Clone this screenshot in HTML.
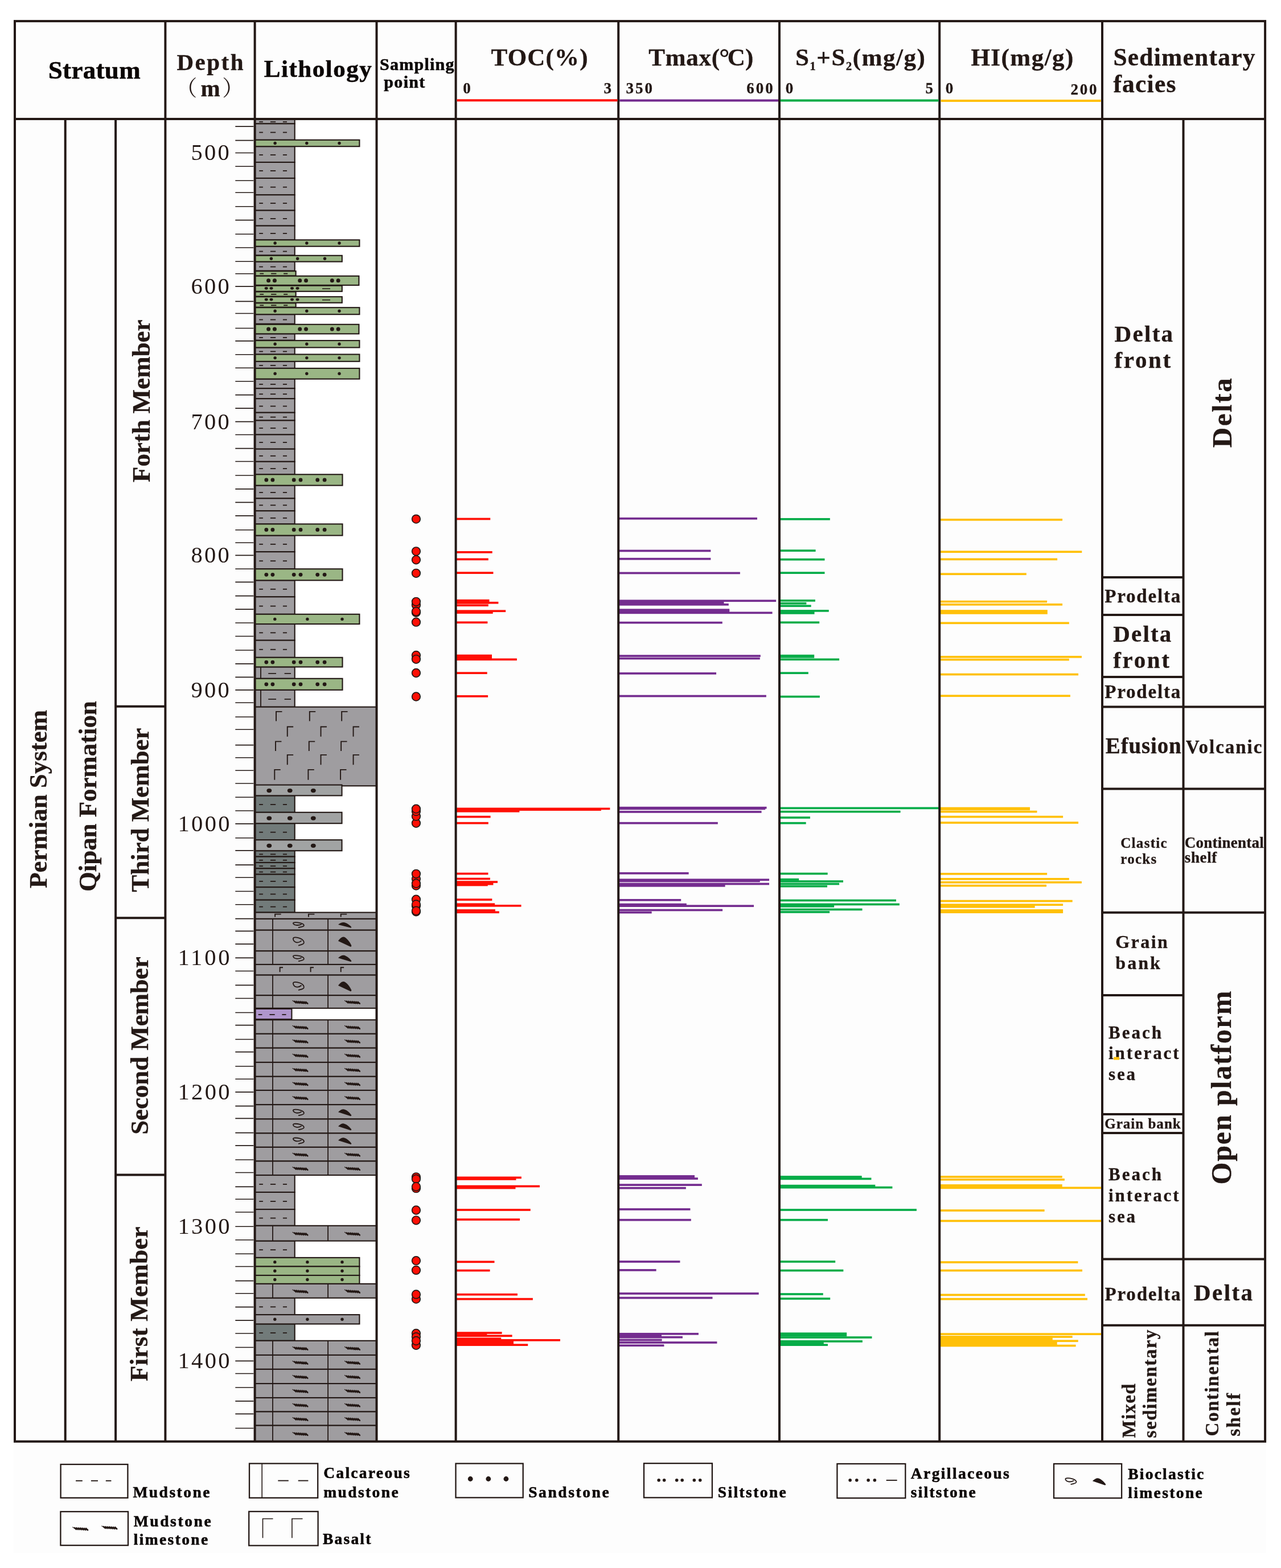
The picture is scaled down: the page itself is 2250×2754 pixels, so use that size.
<!DOCTYPE html>
<html lang="en">
<head>
<meta charset="utf-8">
<title>Stratigraphic column</title>
<style>
html,body{margin:0;padding:0;background:#ffffff;}
body{width:2250px;height:2754px;overflow:hidden;}
svg{display:block;}
svg text{font-family:"Liberation Serif","Noto Serif CJK SC","Noto Sans CJK SC",serif;font-weight:700;fill:#231815;stroke:#231815;stroke-width:0.35px;}
svg text.k{fill:#0b0605;stroke:#0b0605;stroke-width:0.6px;}
</style>
</head>
<body>
<svg width="2250" height="2754" viewBox="0 0 2250 2754">
<rect x="24" y="35.1" width="2200" height="2692.6" fill="#fdfdfd"/>
<g id="lithology">
<rect x="447.6" y="208.9" width="213.9" height="2322.9" fill="#ffffff"/>
<rect x="447.6" y="208.9" width="70.1" height="8.4" fill="#9f9da0" stroke="#231815" stroke-width="2.1"/>
<line x1="455.2" y1="214.1" x2="461.9" y2="214.1" stroke="#231815" stroke-width="1.8" stroke-linecap="butt"/>
<line x1="474.9" y1="214.1" x2="484.2" y2="214.1" stroke="#231815" stroke-width="1.8" stroke-linecap="butt"/>
<line x1="496.9" y1="214.1" x2="504" y2="214.1" stroke="#231815" stroke-width="1.8" stroke-linecap="butt"/>
<rect x="447.6" y="217.3" width="70.1" height="28.5" fill="#9f9da0" stroke="#231815" stroke-width="2.1"/>
<line x1="455.2" y1="232.55" x2="461.9" y2="232.55" stroke="#231815" stroke-width="1.8" stroke-linecap="butt"/>
<line x1="474.9" y1="232.55" x2="484.2" y2="232.55" stroke="#231815" stroke-width="1.8" stroke-linecap="butt"/>
<line x1="496.9" y1="232.55" x2="504" y2="232.55" stroke="#231815" stroke-width="1.8" stroke-linecap="butt"/>
<rect x="447.6" y="257.2" width="70.1" height="27.8" fill="#9f9da0" stroke="#231815" stroke-width="2.1"/>
<line x1="455.2" y1="272.1" x2="461.9" y2="272.1" stroke="#231815" stroke-width="1.8" stroke-linecap="butt"/>
<line x1="474.9" y1="272.1" x2="484.2" y2="272.1" stroke="#231815" stroke-width="1.8" stroke-linecap="butt"/>
<line x1="496.9" y1="272.1" x2="504" y2="272.1" stroke="#231815" stroke-width="1.8" stroke-linecap="butt"/>
<rect x="447.6" y="285" width="70.1" height="28" fill="#9f9da0" stroke="#231815" stroke-width="2.1"/>
<line x1="455.2" y1="300" x2="461.9" y2="300" stroke="#231815" stroke-width="1.8" stroke-linecap="butt"/>
<line x1="474.9" y1="300" x2="484.2" y2="300" stroke="#231815" stroke-width="1.8" stroke-linecap="butt"/>
<line x1="496.9" y1="300" x2="504" y2="300" stroke="#231815" stroke-width="1.8" stroke-linecap="butt"/>
<rect x="447.6" y="313" width="70.1" height="29.3" fill="#9f9da0" stroke="#231815" stroke-width="2.1"/>
<line x1="455.2" y1="328.65" x2="461.9" y2="328.65" stroke="#231815" stroke-width="1.8" stroke-linecap="butt"/>
<line x1="474.9" y1="328.65" x2="484.2" y2="328.65" stroke="#231815" stroke-width="1.8" stroke-linecap="butt"/>
<line x1="496.9" y1="328.65" x2="504" y2="328.65" stroke="#231815" stroke-width="1.8" stroke-linecap="butt"/>
<rect x="447.6" y="342.3" width="70.1" height="27.3" fill="#9f9da0" stroke="#231815" stroke-width="2.1"/>
<line x1="455.2" y1="356.95" x2="461.9" y2="356.95" stroke="#231815" stroke-width="1.8" stroke-linecap="butt"/>
<line x1="474.9" y1="356.95" x2="484.2" y2="356.95" stroke="#231815" stroke-width="1.8" stroke-linecap="butt"/>
<line x1="496.9" y1="356.95" x2="504" y2="356.95" stroke="#231815" stroke-width="1.8" stroke-linecap="butt"/>
<rect x="447.6" y="369.6" width="70.1" height="27" fill="#9f9da0" stroke="#231815" stroke-width="2.1"/>
<line x1="455.2" y1="384.1" x2="461.9" y2="384.1" stroke="#231815" stroke-width="1.8" stroke-linecap="butt"/>
<line x1="474.9" y1="384.1" x2="484.2" y2="384.1" stroke="#231815" stroke-width="1.8" stroke-linecap="butt"/>
<line x1="496.9" y1="384.1" x2="504" y2="384.1" stroke="#231815" stroke-width="1.8" stroke-linecap="butt"/>
<rect x="447.6" y="396.6" width="70.1" height="24.8" fill="#9f9da0" stroke="#231815" stroke-width="2.1"/>
<line x1="455.2" y1="410" x2="461.9" y2="410" stroke="#231815" stroke-width="1.8" stroke-linecap="butt"/>
<line x1="474.9" y1="410" x2="484.2" y2="410" stroke="#231815" stroke-width="1.8" stroke-linecap="butt"/>
<line x1="496.9" y1="410" x2="504" y2="410" stroke="#231815" stroke-width="1.8" stroke-linecap="butt"/>
<rect x="447.6" y="432.7" width="70.1" height="15.7" fill="#9f9da0" stroke="#231815" stroke-width="2.1"/>
<line x1="455.2" y1="441.55" x2="461.9" y2="441.55" stroke="#231815" stroke-width="1.8" stroke-linecap="butt"/>
<line x1="474.9" y1="441.55" x2="484.2" y2="441.55" stroke="#231815" stroke-width="1.8" stroke-linecap="butt"/>
<line x1="496.9" y1="441.55" x2="504" y2="441.55" stroke="#231815" stroke-width="1.8" stroke-linecap="butt"/>
<rect x="447.6" y="459.6" width="70.1" height="16" fill="#9f9da0" stroke="#231815" stroke-width="2.1"/>
<line x1="455.2" y1="468.6" x2="461.9" y2="468.6" stroke="#231815" stroke-width="1.8" stroke-linecap="butt"/>
<line x1="474.9" y1="468.6" x2="484.2" y2="468.6" stroke="#231815" stroke-width="1.8" stroke-linecap="butt"/>
<line x1="496.9" y1="468.6" x2="504" y2="468.6" stroke="#231815" stroke-width="1.8" stroke-linecap="butt"/>
<rect x="447.6" y="552.2" width="70.1" height="16.6" fill="#9f9da0" stroke="#231815" stroke-width="2.1"/>
<line x1="455.2" y1="561.5" x2="461.9" y2="561.5" stroke="#231815" stroke-width="1.8" stroke-linecap="butt"/>
<line x1="474.9" y1="561.5" x2="484.2" y2="561.5" stroke="#231815" stroke-width="1.8" stroke-linecap="butt"/>
<line x1="496.9" y1="561.5" x2="504" y2="561.5" stroke="#231815" stroke-width="1.8" stroke-linecap="butt"/>
<rect x="447.6" y="586.3" width="70.1" height="11.3" fill="#9f9da0" stroke="#231815" stroke-width="2.1"/>
<line x1="455.2" y1="592.95" x2="461.9" y2="592.95" stroke="#231815" stroke-width="1.8" stroke-linecap="butt"/>
<line x1="474.9" y1="592.95" x2="484.2" y2="592.95" stroke="#231815" stroke-width="1.8" stroke-linecap="butt"/>
<line x1="496.9" y1="592.95" x2="504" y2="592.95" stroke="#231815" stroke-width="1.8" stroke-linecap="butt"/>
<rect x="447.6" y="610.4" width="70.1" height="12" fill="#9f9da0" stroke="#231815" stroke-width="2.1"/>
<line x1="455.2" y1="617.4" x2="461.9" y2="617.4" stroke="#231815" stroke-width="1.8" stroke-linecap="butt"/>
<line x1="474.9" y1="617.4" x2="484.2" y2="617.4" stroke="#231815" stroke-width="1.8" stroke-linecap="butt"/>
<line x1="496.9" y1="617.4" x2="504" y2="617.4" stroke="#231815" stroke-width="1.8" stroke-linecap="butt"/>
<rect x="447.6" y="634.8" width="70.1" height="12.1" fill="#9f9da0" stroke="#231815" stroke-width="2.1"/>
<line x1="455.2" y1="641.85" x2="461.9" y2="641.85" stroke="#231815" stroke-width="1.8" stroke-linecap="butt"/>
<line x1="474.9" y1="641.85" x2="484.2" y2="641.85" stroke="#231815" stroke-width="1.8" stroke-linecap="butt"/>
<line x1="496.9" y1="641.85" x2="504" y2="641.85" stroke="#231815" stroke-width="1.8" stroke-linecap="butt"/>
<rect x="447.6" y="665.6" width="70.1" height="16.6" fill="#9f9da0" stroke="#231815" stroke-width="2.1"/>
<line x1="455.2" y1="674.9" x2="461.9" y2="674.9" stroke="#231815" stroke-width="1.8" stroke-linecap="butt"/>
<line x1="474.9" y1="674.9" x2="484.2" y2="674.9" stroke="#231815" stroke-width="1.8" stroke-linecap="butt"/>
<line x1="496.9" y1="674.9" x2="504" y2="674.9" stroke="#231815" stroke-width="1.8" stroke-linecap="butt"/>
<rect x="447.6" y="682.2" width="70.1" height="18" fill="#9f9da0" stroke="#231815" stroke-width="2.1"/>
<line x1="455.2" y1="692.2" x2="461.9" y2="692.2" stroke="#231815" stroke-width="1.8" stroke-linecap="butt"/>
<line x1="474.9" y1="692.2" x2="484.2" y2="692.2" stroke="#231815" stroke-width="1.8" stroke-linecap="butt"/>
<line x1="496.9" y1="692.2" x2="504" y2="692.2" stroke="#231815" stroke-width="1.8" stroke-linecap="butt"/>
<rect x="447.6" y="700.2" width="70.1" height="24.5" fill="#9f9da0" stroke="#231815" stroke-width="2.1"/>
<line x1="455.2" y1="713.45" x2="461.9" y2="713.45" stroke="#231815" stroke-width="1.8" stroke-linecap="butt"/>
<line x1="474.9" y1="713.45" x2="484.2" y2="713.45" stroke="#231815" stroke-width="1.8" stroke-linecap="butt"/>
<line x1="496.9" y1="713.45" x2="504" y2="713.45" stroke="#231815" stroke-width="1.8" stroke-linecap="butt"/>
<rect x="447.6" y="724.7" width="70.1" height="13.8" fill="#9f9da0" stroke="#231815" stroke-width="2.1"/>
<line x1="455.2" y1="732.6" x2="461.9" y2="732.6" stroke="#231815" stroke-width="1.8" stroke-linecap="butt"/>
<line x1="474.9" y1="732.6" x2="484.2" y2="732.6" stroke="#231815" stroke-width="1.8" stroke-linecap="butt"/>
<line x1="496.9" y1="732.6" x2="504" y2="732.6" stroke="#231815" stroke-width="1.8" stroke-linecap="butt"/>
<rect x="447.6" y="738.5" width="70.1" height="24.9" fill="#9f9da0" stroke="#231815" stroke-width="2.1"/>
<line x1="455.2" y1="751.95" x2="461.9" y2="751.95" stroke="#231815" stroke-width="1.8" stroke-linecap="butt"/>
<line x1="474.9" y1="751.95" x2="484.2" y2="751.95" stroke="#231815" stroke-width="1.8" stroke-linecap="butt"/>
<line x1="496.9" y1="751.95" x2="504" y2="751.95" stroke="#231815" stroke-width="1.8" stroke-linecap="butt"/>
<rect x="447.6" y="763.4" width="70.1" height="25.3" fill="#9f9da0" stroke="#231815" stroke-width="2.1"/>
<line x1="455.2" y1="777.05" x2="461.9" y2="777.05" stroke="#231815" stroke-width="1.8" stroke-linecap="butt"/>
<line x1="474.9" y1="777.05" x2="484.2" y2="777.05" stroke="#231815" stroke-width="1.8" stroke-linecap="butt"/>
<line x1="496.9" y1="777.05" x2="504" y2="777.05" stroke="#231815" stroke-width="1.8" stroke-linecap="butt"/>
<rect x="447.6" y="788.7" width="70.1" height="22.1" fill="#9f9da0" stroke="#231815" stroke-width="2.1"/>
<line x1="455.2" y1="800.75" x2="461.9" y2="800.75" stroke="#231815" stroke-width="1.8" stroke-linecap="butt"/>
<line x1="474.9" y1="800.75" x2="484.2" y2="800.75" stroke="#231815" stroke-width="1.8" stroke-linecap="butt"/>
<line x1="496.9" y1="800.75" x2="504" y2="800.75" stroke="#231815" stroke-width="1.8" stroke-linecap="butt"/>
<rect x="447.6" y="810.8" width="70.1" height="22.5" fill="#9f9da0" stroke="#231815" stroke-width="2.1"/>
<line x1="455.2" y1="823.05" x2="461.9" y2="823.05" stroke="#231815" stroke-width="1.8" stroke-linecap="butt"/>
<line x1="474.9" y1="823.05" x2="484.2" y2="823.05" stroke="#231815" stroke-width="1.8" stroke-linecap="butt"/>
<line x1="496.9" y1="823.05" x2="504" y2="823.05" stroke="#231815" stroke-width="1.8" stroke-linecap="butt"/>
<rect x="447.6" y="852.6" width="70.1" height="22.8" fill="#9f9da0" stroke="#231815" stroke-width="2.1"/>
<line x1="455.2" y1="865" x2="461.9" y2="865" stroke="#231815" stroke-width="1.8" stroke-linecap="butt"/>
<line x1="474.9" y1="865" x2="484.2" y2="865" stroke="#231815" stroke-width="1.8" stroke-linecap="butt"/>
<line x1="496.9" y1="865" x2="504" y2="865" stroke="#231815" stroke-width="1.8" stroke-linecap="butt"/>
<rect x="447.6" y="875.4" width="70.1" height="21.9" fill="#9f9da0" stroke="#231815" stroke-width="2.1"/>
<line x1="455.2" y1="887.35" x2="461.9" y2="887.35" stroke="#231815" stroke-width="1.8" stroke-linecap="butt"/>
<line x1="474.9" y1="887.35" x2="484.2" y2="887.35" stroke="#231815" stroke-width="1.8" stroke-linecap="butt"/>
<line x1="496.9" y1="887.35" x2="504" y2="887.35" stroke="#231815" stroke-width="1.8" stroke-linecap="butt"/>
<rect x="447.6" y="897.3" width="70.1" height="23.1" fill="#9f9da0" stroke="#231815" stroke-width="2.1"/>
<line x1="455.2" y1="909.85" x2="461.9" y2="909.85" stroke="#231815" stroke-width="1.8" stroke-linecap="butt"/>
<line x1="474.9" y1="909.85" x2="484.2" y2="909.85" stroke="#231815" stroke-width="1.8" stroke-linecap="butt"/>
<line x1="496.9" y1="909.85" x2="504" y2="909.85" stroke="#231815" stroke-width="1.8" stroke-linecap="butt"/>
<rect x="447.6" y="940.5" width="70.1" height="28.7" fill="#9f9da0" stroke="#231815" stroke-width="2.1"/>
<line x1="455.2" y1="955.85" x2="461.9" y2="955.85" stroke="#231815" stroke-width="1.8" stroke-linecap="butt"/>
<line x1="474.9" y1="955.85" x2="484.2" y2="955.85" stroke="#231815" stroke-width="1.8" stroke-linecap="butt"/>
<line x1="496.9" y1="955.85" x2="504" y2="955.85" stroke="#231815" stroke-width="1.8" stroke-linecap="butt"/>
<rect x="447.6" y="969.2" width="70.1" height="30.1" fill="#9f9da0" stroke="#231815" stroke-width="2.1"/>
<line x1="455.2" y1="985.25" x2="461.9" y2="985.25" stroke="#231815" stroke-width="1.8" stroke-linecap="butt"/>
<line x1="474.9" y1="985.25" x2="484.2" y2="985.25" stroke="#231815" stroke-width="1.8" stroke-linecap="butt"/>
<line x1="496.9" y1="985.25" x2="504" y2="985.25" stroke="#231815" stroke-width="1.8" stroke-linecap="butt"/>
<rect x="447.6" y="1019.3" width="70.1" height="29" fill="#9f9da0" stroke="#231815" stroke-width="2.1"/>
<line x1="455.2" y1="1034.8" x2="461.9" y2="1034.8" stroke="#231815" stroke-width="1.8" stroke-linecap="butt"/>
<line x1="474.9" y1="1034.8" x2="484.2" y2="1034.8" stroke="#231815" stroke-width="1.8" stroke-linecap="butt"/>
<line x1="496.9" y1="1034.8" x2="504" y2="1034.8" stroke="#231815" stroke-width="1.8" stroke-linecap="butt"/>
<rect x="447.6" y="1048.3" width="70.1" height="30.5" fill="#9f9da0" stroke="#231815" stroke-width="2.1"/>
<line x1="455.2" y1="1064.55" x2="461.9" y2="1064.55" stroke="#231815" stroke-width="1.8" stroke-linecap="butt"/>
<line x1="474.9" y1="1064.55" x2="484.2" y2="1064.55" stroke="#231815" stroke-width="1.8" stroke-linecap="butt"/>
<line x1="496.9" y1="1064.55" x2="504" y2="1064.55" stroke="#231815" stroke-width="1.8" stroke-linecap="butt"/>
<rect x="447.6" y="1096" width="70.1" height="28.7" fill="#9f9da0" stroke="#231815" stroke-width="2.1"/>
<line x1="455.2" y1="1111.35" x2="461.9" y2="1111.35" stroke="#231815" stroke-width="1.8" stroke-linecap="butt"/>
<line x1="474.9" y1="1111.35" x2="484.2" y2="1111.35" stroke="#231815" stroke-width="1.8" stroke-linecap="butt"/>
<line x1="496.9" y1="1111.35" x2="504" y2="1111.35" stroke="#231815" stroke-width="1.8" stroke-linecap="butt"/>
<rect x="447.6" y="1124.7" width="70.1" height="30.1" fill="#9f9da0" stroke="#231815" stroke-width="2.1"/>
<line x1="455.2" y1="1140.75" x2="461.9" y2="1140.75" stroke="#231815" stroke-width="1.8" stroke-linecap="butt"/>
<line x1="474.9" y1="1140.75" x2="484.2" y2="1140.75" stroke="#231815" stroke-width="1.8" stroke-linecap="butt"/>
<line x1="496.9" y1="1140.75" x2="504" y2="1140.75" stroke="#231815" stroke-width="1.8" stroke-linecap="butt"/>
<rect x="447.6" y="1171.4" width="70.1" height="20.4" fill="#9f9da0" stroke="#231815" stroke-width="2.1"/>
<line x1="458" y1="1171.4" x2="458" y2="1191.8" stroke="#231815" stroke-width="1.8" stroke-linecap="butt"/>
<line x1="471.2" y1="1182.9" x2="485" y2="1182.9" stroke="#231815" stroke-width="1.7" stroke-linecap="butt"/>
<line x1="499.6" y1="1182.9" x2="511" y2="1182.9" stroke="#231815" stroke-width="1.7" stroke-linecap="butt"/>
<rect x="447.6" y="1211.8" width="70.1" height="29.9" fill="#9f9da0" stroke="#231815" stroke-width="2.1"/>
<line x1="458" y1="1211.8" x2="458" y2="1241.7" stroke="#231815" stroke-width="1.8" stroke-linecap="butt"/>
<line x1="471.2" y1="1228.05" x2="485" y2="1228.05" stroke="#231815" stroke-width="1.7" stroke-linecap="butt"/>
<line x1="499.6" y1="1228.05" x2="511" y2="1228.05" stroke="#231815" stroke-width="1.7" stroke-linecap="butt"/>
<rect x="447.6" y="1397.4" width="70.1" height="29.4" fill="#727b7a" stroke="#231815" stroke-width="2.1"/>
<line x1="455.2" y1="1413.1" x2="461.9" y2="1413.1" stroke="#231815" stroke-width="1.8" stroke-linecap="butt"/>
<line x1="474.9" y1="1413.1" x2="484.2" y2="1413.1" stroke="#231815" stroke-width="1.8" stroke-linecap="butt"/>
<line x1="496.9" y1="1413.1" x2="504" y2="1413.1" stroke="#231815" stroke-width="1.8" stroke-linecap="butt"/>
<rect x="447.6" y="1446.2" width="70.1" height="29" fill="#727b7a" stroke="#231815" stroke-width="2.1"/>
<line x1="455.2" y1="1461.7" x2="461.9" y2="1461.7" stroke="#231815" stroke-width="1.8" stroke-linecap="butt"/>
<line x1="474.9" y1="1461.7" x2="484.2" y2="1461.7" stroke="#231815" stroke-width="1.8" stroke-linecap="butt"/>
<line x1="496.9" y1="1461.7" x2="504" y2="1461.7" stroke="#231815" stroke-width="1.8" stroke-linecap="butt"/>
<rect x="447.6" y="1494.2" width="70.1" height="10.4" fill="#727b7a" stroke="#231815" stroke-width="2.1"/>
<line x1="455.2" y1="1500.4" x2="461.9" y2="1500.4" stroke="#231815" stroke-width="1.8" stroke-linecap="butt"/>
<line x1="474.9" y1="1500.4" x2="484.2" y2="1500.4" stroke="#231815" stroke-width="1.8" stroke-linecap="butt"/>
<line x1="496.9" y1="1500.4" x2="504" y2="1500.4" stroke="#231815" stroke-width="1.8" stroke-linecap="butt"/>
<rect x="447.6" y="1504.6" width="70.1" height="10.4" fill="#727b7a" stroke="#231815" stroke-width="2.1"/>
<line x1="455.2" y1="1510.8" x2="461.9" y2="1510.8" stroke="#231815" stroke-width="1.8" stroke-linecap="butt"/>
<line x1="474.9" y1="1510.8" x2="484.2" y2="1510.8" stroke="#231815" stroke-width="1.8" stroke-linecap="butt"/>
<line x1="496.9" y1="1510.8" x2="504" y2="1510.8" stroke="#231815" stroke-width="1.8" stroke-linecap="butt"/>
<rect x="447.6" y="1515" width="70.1" height="10.3" fill="#727b7a" stroke="#231815" stroke-width="2.1"/>
<line x1="455.2" y1="1521.15" x2="461.9" y2="1521.15" stroke="#231815" stroke-width="1.8" stroke-linecap="butt"/>
<line x1="474.9" y1="1521.15" x2="484.2" y2="1521.15" stroke="#231815" stroke-width="1.8" stroke-linecap="butt"/>
<line x1="496.9" y1="1521.15" x2="504" y2="1521.15" stroke="#231815" stroke-width="1.8" stroke-linecap="butt"/>
<rect x="447.6" y="1525.3" width="70.1" height="10.4" fill="#727b7a" stroke="#231815" stroke-width="2.1"/>
<line x1="455.2" y1="1531.5" x2="461.9" y2="1531.5" stroke="#231815" stroke-width="1.8" stroke-linecap="butt"/>
<line x1="474.9" y1="1531.5" x2="484.2" y2="1531.5" stroke="#231815" stroke-width="1.8" stroke-linecap="butt"/>
<line x1="496.9" y1="1531.5" x2="504" y2="1531.5" stroke="#231815" stroke-width="1.8" stroke-linecap="butt"/>
<rect x="447.6" y="1535.7" width="70.1" height="22.5" fill="#727b7a" stroke="#231815" stroke-width="2.1"/>
<line x1="455.2" y1="1547.95" x2="461.9" y2="1547.95" stroke="#231815" stroke-width="1.8" stroke-linecap="butt"/>
<line x1="474.9" y1="1547.95" x2="484.2" y2="1547.95" stroke="#231815" stroke-width="1.8" stroke-linecap="butt"/>
<line x1="496.9" y1="1547.95" x2="504" y2="1547.95" stroke="#231815" stroke-width="1.8" stroke-linecap="butt"/>
<rect x="447.6" y="1558.2" width="70.1" height="22.5" fill="#727b7a" stroke="#231815" stroke-width="2.1"/>
<line x1="455.2" y1="1570.45" x2="461.9" y2="1570.45" stroke="#231815" stroke-width="1.8" stroke-linecap="butt"/>
<line x1="474.9" y1="1570.45" x2="484.2" y2="1570.45" stroke="#231815" stroke-width="1.8" stroke-linecap="butt"/>
<line x1="496.9" y1="1570.45" x2="504" y2="1570.45" stroke="#231815" stroke-width="1.8" stroke-linecap="butt"/>
<rect x="447.6" y="1580.7" width="70.1" height="21.9" fill="#727b7a" stroke="#231815" stroke-width="2.1"/>
<line x1="455.2" y1="1592.65" x2="461.9" y2="1592.65" stroke="#231815" stroke-width="1.8" stroke-linecap="butt"/>
<line x1="474.9" y1="1592.65" x2="484.2" y2="1592.65" stroke="#231815" stroke-width="1.8" stroke-linecap="butt"/>
<line x1="496.9" y1="1592.65" x2="504" y2="1592.65" stroke="#231815" stroke-width="1.8" stroke-linecap="butt"/>
<rect x="447.6" y="1771.9" width="64.8" height="18.3" fill="#b096cc" stroke="#231815" stroke-width="2.1"/>
<line x1="453.7" y1="1782.05" x2="460.4" y2="1782.05" stroke="#231815" stroke-width="1.8" stroke-linecap="butt"/>
<line x1="473.4" y1="1782.05" x2="482.7" y2="1782.05" stroke="#231815" stroke-width="1.8" stroke-linecap="butt"/>
<line x1="495.4" y1="1782.05" x2="502.5" y2="1782.05" stroke="#231815" stroke-width="1.8" stroke-linecap="butt"/>
<rect x="447.6" y="2064" width="70.1" height="30" fill="#9f9da0" stroke="#231815" stroke-width="2.1"/>
<line x1="455.2" y1="2080" x2="461.9" y2="2080" stroke="#231815" stroke-width="1.8" stroke-linecap="butt"/>
<line x1="474.9" y1="2080" x2="484.2" y2="2080" stroke="#231815" stroke-width="1.8" stroke-linecap="butt"/>
<line x1="496.9" y1="2080" x2="504" y2="2080" stroke="#231815" stroke-width="1.8" stroke-linecap="butt"/>
<rect x="447.6" y="2094" width="70.1" height="30.1" fill="#9f9da0" stroke="#231815" stroke-width="2.1"/>
<line x1="455.2" y1="2110.05" x2="461.9" y2="2110.05" stroke="#231815" stroke-width="1.8" stroke-linecap="butt"/>
<line x1="474.9" y1="2110.05" x2="484.2" y2="2110.05" stroke="#231815" stroke-width="1.8" stroke-linecap="butt"/>
<line x1="496.9" y1="2110.05" x2="504" y2="2110.05" stroke="#231815" stroke-width="1.8" stroke-linecap="butt"/>
<rect x="447.6" y="2124.1" width="70.1" height="28.7" fill="#9f9da0" stroke="#231815" stroke-width="2.1"/>
<line x1="455.2" y1="2139.45" x2="461.9" y2="2139.45" stroke="#231815" stroke-width="1.8" stroke-linecap="butt"/>
<line x1="474.9" y1="2139.45" x2="484.2" y2="2139.45" stroke="#231815" stroke-width="1.8" stroke-linecap="butt"/>
<line x1="496.9" y1="2139.45" x2="504" y2="2139.45" stroke="#231815" stroke-width="1.8" stroke-linecap="butt"/>
<rect x="447.6" y="2179.5" width="70.1" height="29.4" fill="#9f9da0" stroke="#231815" stroke-width="2.1"/>
<line x1="455.2" y1="2195.2" x2="461.9" y2="2195.2" stroke="#231815" stroke-width="1.8" stroke-linecap="butt"/>
<line x1="474.9" y1="2195.2" x2="484.2" y2="2195.2" stroke="#231815" stroke-width="1.8" stroke-linecap="butt"/>
<line x1="496.9" y1="2195.2" x2="504" y2="2195.2" stroke="#231815" stroke-width="1.8" stroke-linecap="butt"/>
<rect x="447.6" y="2279.7" width="70.1" height="29.4" fill="#9f9da0" stroke="#231815" stroke-width="2.1"/>
<line x1="455.2" y1="2295.4" x2="461.9" y2="2295.4" stroke="#231815" stroke-width="1.8" stroke-linecap="butt"/>
<line x1="474.9" y1="2295.4" x2="484.2" y2="2295.4" stroke="#231815" stroke-width="1.8" stroke-linecap="butt"/>
<line x1="496.9" y1="2295.4" x2="504" y2="2295.4" stroke="#231815" stroke-width="1.8" stroke-linecap="butt"/>
<rect x="447.6" y="2325.4" width="70.1" height="29.4" fill="#727b7a" stroke="#231815" stroke-width="2.1"/>
<line x1="455.2" y1="2341.1" x2="461.9" y2="2341.1" stroke="#231815" stroke-width="1.8" stroke-linecap="butt"/>
<line x1="474.9" y1="2341.1" x2="484.2" y2="2341.1" stroke="#231815" stroke-width="1.8" stroke-linecap="butt"/>
<line x1="496.9" y1="2341.1" x2="504" y2="2341.1" stroke="#231815" stroke-width="1.8" stroke-linecap="butt"/>
<rect x="447.6" y="245.8" width="183.8" height="11.4" fill="#9ab685" stroke="#231815" stroke-width="2.1"/>
<circle cx="483.1" cy="251.5" r="2.7" fill="#231815"/>
<circle cx="538.8" cy="251.5" r="2.7" fill="#231815"/>
<circle cx="596" cy="251.5" r="2.7" fill="#231815"/>
<rect x="447.6" y="421.4" width="183.8" height="11.3" fill="#9ab685" stroke="#231815" stroke-width="2.1"/>
<circle cx="483.1" cy="427.05" r="2.7" fill="#231815"/>
<circle cx="538.8" cy="427.05" r="2.7" fill="#231815"/>
<circle cx="596" cy="427.05" r="2.7" fill="#231815"/>
<rect x="447.6" y="448.8" width="153.2" height="10.8" fill="#9ab685" stroke="#231815" stroke-width="2.1"/>
<circle cx="476.4" cy="454.2" r="2.7" fill="#231815"/>
<circle cx="522.6" cy="454.2" r="2.7" fill="#231815"/>
<circle cx="570.5" cy="454.2" r="2.7" fill="#231815"/>
<rect x="447.6" y="476.2" width="72" height="8.2" fill="#9ab685" stroke="#231815" stroke-width="2.1"/>
<line x1="456.4" y1="480.6" x2="463.1" y2="480.6" stroke="#231815" stroke-width="1.8" stroke-linecap="butt"/>
<line x1="476.1" y1="480.6" x2="485.4" y2="480.6" stroke="#231815" stroke-width="1.8" stroke-linecap="butt"/>
<line x1="498.1" y1="480.6" x2="505.2" y2="480.6" stroke="#231815" stroke-width="1.8" stroke-linecap="butt"/>
<rect x="447.6" y="484.8" width="182.8" height="16.1" fill="#9ab685" stroke="#231815" stroke-width="2.1"/>
<circle cx="471.6" cy="492.85" r="3.5" fill="#231815"/>
<circle cx="482.4" cy="492.85" r="3.5" fill="#231815"/>
<circle cx="526.7" cy="492.85" r="3.5" fill="#231815"/>
<circle cx="537.5" cy="492.85" r="3.5" fill="#231815"/>
<circle cx="583.3" cy="492.85" r="3.5" fill="#231815"/>
<circle cx="594.1" cy="492.85" r="3.5" fill="#231815"/>
<rect x="447.6" y="501.7" width="153.2" height="10.1" fill="#9ab685" stroke="#231815" stroke-width="2.1"/>
<ellipse cx="467.7" cy="506.35" rx="3" ry="2.4" fill="#231815"/>
<ellipse cx="476.5" cy="506.35" rx="3" ry="2.4" fill="#231815"/>
<ellipse cx="513" cy="506.35" rx="3" ry="2.4" fill="#231815"/>
<ellipse cx="522.5" cy="506.35" rx="3" ry="2.4" fill="#231815"/>
<line x1="566" y1="507.05" x2="580" y2="507.05" stroke="#231815" stroke-width="1.5" stroke-linecap="butt"/>
<rect x="447.6" y="512.5" width="72" height="8.1" fill="#9ab685" stroke="#231815" stroke-width="2.1"/>
<line x1="456.4" y1="516.85" x2="463.1" y2="516.85" stroke="#231815" stroke-width="1.8" stroke-linecap="butt"/>
<line x1="476.1" y1="516.85" x2="485.4" y2="516.85" stroke="#231815" stroke-width="1.8" stroke-linecap="butt"/>
<line x1="498.1" y1="516.85" x2="505.2" y2="516.85" stroke="#231815" stroke-width="1.8" stroke-linecap="butt"/>
<rect x="447.6" y="521.2" width="153.2" height="10.6" fill="#9ab685" stroke="#231815" stroke-width="2.1"/>
<ellipse cx="467.7" cy="526.1" rx="3" ry="2.4" fill="#231815"/>
<ellipse cx="476.5" cy="526.1" rx="3" ry="2.4" fill="#231815"/>
<ellipse cx="513" cy="526.1" rx="3" ry="2.4" fill="#231815"/>
<ellipse cx="522.5" cy="526.1" rx="3" ry="2.4" fill="#231815"/>
<line x1="566" y1="526.8" x2="580" y2="526.8" stroke="#231815" stroke-width="1.5" stroke-linecap="butt"/>
<rect x="447.6" y="532.3" width="72" height="7.3" fill="#9ab685" stroke="#231815" stroke-width="2.1"/>
<line x1="456.4" y1="536.25" x2="463.1" y2="536.25" stroke="#231815" stroke-width="1.8" stroke-linecap="butt"/>
<line x1="476.1" y1="536.25" x2="485.4" y2="536.25" stroke="#231815" stroke-width="1.8" stroke-linecap="butt"/>
<line x1="498.1" y1="536.25" x2="505.2" y2="536.25" stroke="#231815" stroke-width="1.8" stroke-linecap="butt"/>
<rect x="447.6" y="540.2" width="183.8" height="12" fill="#9ab685" stroke="#231815" stroke-width="2.1"/>
<circle cx="483.1" cy="546.2" r="2.7" fill="#231815"/>
<circle cx="538.8" cy="546.2" r="2.7" fill="#231815"/>
<circle cx="596" cy="546.2" r="2.7" fill="#231815"/>
<rect x="447.6" y="569.8" width="182.8" height="16.5" fill="#9ab685" stroke="#231815" stroke-width="2.1"/>
<circle cx="471.6" cy="578.05" r="3.5" fill="#231815"/>
<circle cx="482.4" cy="578.05" r="3.5" fill="#231815"/>
<circle cx="526.7" cy="578.05" r="3.5" fill="#231815"/>
<circle cx="537.5" cy="578.05" r="3.5" fill="#231815"/>
<circle cx="583.3" cy="578.05" r="3.5" fill="#231815"/>
<circle cx="594.1" cy="578.05" r="3.5" fill="#231815"/>
<rect x="447.6" y="598.1" width="183.8" height="12.3" fill="#9ab685" stroke="#231815" stroke-width="2.1"/>
<circle cx="483.1" cy="604.25" r="2.7" fill="#231815"/>
<circle cx="538.8" cy="604.25" r="2.7" fill="#231815"/>
<circle cx="596" cy="604.25" r="2.7" fill="#231815"/>
<rect x="447.6" y="622.4" width="183.8" height="12.4" fill="#9ab685" stroke="#231815" stroke-width="2.1"/>
<circle cx="483.1" cy="628.6" r="2.7" fill="#231815"/>
<circle cx="538.8" cy="628.6" r="2.7" fill="#231815"/>
<circle cx="596" cy="628.6" r="2.7" fill="#231815"/>
<rect x="447.6" y="646.9" width="183.8" height="18.7" fill="#9ab685" stroke="#231815" stroke-width="2.1"/>
<circle cx="483.1" cy="656.25" r="2.7" fill="#231815"/>
<circle cx="538.8" cy="656.25" r="2.7" fill="#231815"/>
<circle cx="596" cy="656.25" r="2.7" fill="#231815"/>
<rect x="447.6" y="833.3" width="153.9" height="19.3" fill="#9ab685" stroke="#231815" stroke-width="2.1"/>
<circle cx="467.8" cy="842.95" r="3.4" fill="#231815"/>
<circle cx="478.9" cy="842.95" r="3.4" fill="#231815"/>
<circle cx="516.2" cy="842.95" r="3.4" fill="#231815"/>
<circle cx="528" cy="842.95" r="3.4" fill="#231815"/>
<circle cx="557.7" cy="842.95" r="3.4" fill="#231815"/>
<circle cx="570.1" cy="842.95" r="3.4" fill="#231815"/>
<rect x="447.6" y="920.4" width="153.9" height="20.1" fill="#9ab685" stroke="#231815" stroke-width="2.1"/>
<circle cx="467.8" cy="930.45" r="3.4" fill="#231815"/>
<circle cx="478.9" cy="930.45" r="3.4" fill="#231815"/>
<circle cx="516.2" cy="930.45" r="3.4" fill="#231815"/>
<circle cx="528" cy="930.45" r="3.4" fill="#231815"/>
<circle cx="557.7" cy="930.45" r="3.4" fill="#231815"/>
<circle cx="570.1" cy="930.45" r="3.4" fill="#231815"/>
<rect x="447.6" y="999.3" width="153.9" height="20" fill="#9ab685" stroke="#231815" stroke-width="2.1"/>
<circle cx="467.8" cy="1009.3" r="3.4" fill="#231815"/>
<circle cx="478.9" cy="1009.3" r="3.4" fill="#231815"/>
<circle cx="516.2" cy="1009.3" r="3.4" fill="#231815"/>
<circle cx="528" cy="1009.3" r="3.4" fill="#231815"/>
<circle cx="557.7" cy="1009.3" r="3.4" fill="#231815"/>
<circle cx="570.1" cy="1009.3" r="3.4" fill="#231815"/>
<rect x="447.6" y="1078.8" width="183.8" height="17.2" fill="#9ab685" stroke="#231815" stroke-width="2.1"/>
<circle cx="482.8" cy="1087.4" r="2.7" fill="#231815"/>
<circle cx="539.9" cy="1087.4" r="2.7" fill="#231815"/>
<circle cx="601" cy="1087.4" r="2.7" fill="#231815"/>
<rect x="447.6" y="1154.8" width="153.9" height="16.6" fill="#9ab685" stroke="#231815" stroke-width="2.1"/>
<circle cx="467.8" cy="1163.1" r="3.4" fill="#231815"/>
<circle cx="478.9" cy="1163.1" r="3.4" fill="#231815"/>
<circle cx="516.2" cy="1163.1" r="3.4" fill="#231815"/>
<circle cx="528" cy="1163.1" r="3.4" fill="#231815"/>
<circle cx="557.7" cy="1163.1" r="3.4" fill="#231815"/>
<circle cx="570.1" cy="1163.1" r="3.4" fill="#231815"/>
<rect x="447.6" y="1191.8" width="153.9" height="20" fill="#9ab685" stroke="#231815" stroke-width="2.1"/>
<circle cx="467.8" cy="1201.8" r="3.4" fill="#231815"/>
<circle cx="478.9" cy="1201.8" r="3.4" fill="#231815"/>
<circle cx="516.2" cy="1201.8" r="3.4" fill="#231815"/>
<circle cx="528" cy="1201.8" r="3.4" fill="#231815"/>
<circle cx="557.7" cy="1201.8" r="3.4" fill="#231815"/>
<circle cx="570.1" cy="1201.8" r="3.4" fill="#231815"/>
<rect x="447.6" y="1241.7" width="213.9" height="138.6" fill="#9f9da0" stroke="#231815" stroke-width="2.1"/>
<rect x="447.6" y="1378.6" width="152.9" height="18.8" fill="#a1a3a3" stroke="#231815" stroke-width="2.1"/>
<ellipse cx="472.8" cy="1388.6" rx="4.4" ry="3.6" fill="#231815"/>
<ellipse cx="509.2" cy="1388.6" rx="4.4" ry="3.6" fill="#231815"/>
<ellipse cx="550.3" cy="1388.6" rx="4.4" ry="3.6" fill="#231815"/>
<rect x="447.6" y="1426.8" width="152.9" height="19.4" fill="#a1a3a3" stroke="#231815" stroke-width="2.1"/>
<ellipse cx="472.8" cy="1437.1" rx="4.4" ry="3.6" fill="#231815"/>
<ellipse cx="509.2" cy="1437.1" rx="4.4" ry="3.6" fill="#231815"/>
<ellipse cx="550.3" cy="1437.1" rx="4.4" ry="3.6" fill="#231815"/>
<rect x="447.6" y="1475.2" width="152.9" height="19" fill="#a1a3a3" stroke="#231815" stroke-width="2.1"/>
<ellipse cx="472.8" cy="1485.3" rx="4.4" ry="3.6" fill="#231815"/>
<ellipse cx="509.2" cy="1485.3" rx="4.4" ry="3.6" fill="#231815"/>
<ellipse cx="550.3" cy="1485.3" rx="4.4" ry="3.6" fill="#231815"/>
<rect x="447.6" y="1602.6" width="213.9" height="11.3" fill="#9f9da0" stroke="#231815" stroke-width="2.1"/>
<rect x="447.6" y="1613.9" width="213.9" height="19.8" fill="#9f9da0" stroke="#231815" stroke-width="2.1"/>
<line x1="479" y1="1613.9" x2="479" y2="1633.7" stroke="#231815" stroke-width="1.8" stroke-linecap="butt"/>
<line x1="576.1" y1="1613.9" x2="576.1" y2="1633.7" stroke="#231815" stroke-width="1.8" stroke-linecap="butt"/>
<g transform="translate(524.5 1623.3)" fill="none" stroke="#231815" stroke-width="1.8" stroke-linecap="round" stroke-linejoin="round"><path d="M 4.5 0.4 C -1 2.75 -8.5 1.74 -9.6 -1.59 C -10.2 -3.62 -3 -3.33 2.5 -2.17 C 7.5 -1.16 10.2 0.87 9.2 2.76 C 8.2 4.44 4 5.07 0.2 5.7"/></g>
<path transform="translate(605.6 1624.7)" fill="#231815" d="M -11.6 -0.77 C -8.5 -3.22 -5 -4.82 -2 -4.64 C 2.5 -4.3 9 0.21 11.6 3.44 C 12 4.73 10.5 5.07 9.2 4.51 Z"/>
<rect x="447.6" y="1633.7" width="213.9" height="36.6" fill="#9f9da0" stroke="#231815" stroke-width="2.1"/>
<line x1="479" y1="1633.7" x2="479" y2="1670.3" stroke="#231815" stroke-width="1.8" stroke-linecap="butt"/>
<line x1="576.1" y1="1633.7" x2="576.1" y2="1670.3" stroke="#231815" stroke-width="1.8" stroke-linecap="butt"/>
<g transform="translate(524.5 1652.2)" fill="none" stroke="#231815" stroke-width="1.8" stroke-linecap="round" stroke-linejoin="round"><path d="M 4.5 0.4 C -1 5.22 -8.5 3.3 -9.6 -3.03 C -10.2 -6.88 -3 -6.32 2.5 -4.12 C 7.5 -2.2 10.2 1.65 9.2 4.26 C 8.2 6.58 4 7.45 0.2 8.32"/></g>
<path transform="translate(605.6 1654.1)" fill="#231815" d="M -11.6 -1.42 C -8.5 -5.93 -5 -8.85 -2 -8.53 C 2.5 -7.9 9 0.4 11.6 6.32 C 12 8.69 10.5 9.32 9.2 8.29 Z"/>
<rect x="447.6" y="1670.3" width="213.9" height="23.7" fill="#9f9da0" stroke="#231815" stroke-width="2.1"/>
<line x1="479" y1="1670.3" x2="479" y2="1694" stroke="#231815" stroke-width="1.8" stroke-linecap="butt"/>
<line x1="576.1" y1="1670.3" x2="576.1" y2="1694" stroke="#231815" stroke-width="1.8" stroke-linecap="butt"/>
<g transform="translate(524.5 1681.81)" fill="none" stroke="#231815" stroke-width="1.8" stroke-linecap="round" stroke-linejoin="round"><path d="M 4.5 0.4 C -1 3.33 -8.5 2.1 -9.6 -1.93 C -10.2 -4.38 -3 -4.03 2.5 -2.63 C 7.5 -1.4 10.2 1.05 9.2 3.11 C 8.2 4.93 4 5.62 0.2 6.31"/></g>
<path transform="translate(605.6 1683.33)" fill="#231815" d="M -11.6 -0.92 C -8.5 -3.85 -5 -5.75 -2 -5.54 C 2.5 -5.13 9 0.26 11.6 4.11 C 12 5.65 10.5 6.06 9.2 5.39 Z"/>
<rect x="447.6" y="1694" width="213.9" height="18.6" fill="#9f9da0" stroke="#231815" stroke-width="2.1"/>
<rect x="447.6" y="1712.6" width="213.9" height="35.6" fill="#9f9da0" stroke="#231815" stroke-width="2.1"/>
<line x1="479" y1="1712.6" x2="479" y2="1748.2" stroke="#231815" stroke-width="1.8" stroke-linecap="butt"/>
<line x1="576.1" y1="1712.6" x2="576.1" y2="1748.2" stroke="#231815" stroke-width="1.8" stroke-linecap="butt"/>
<g transform="translate(524.5 1730.58)" fill="none" stroke="#231815" stroke-width="1.8" stroke-linecap="round" stroke-linejoin="round"><path d="M 4.5 0.4 C -1 5.16 -8.5 3.26 -9.6 -2.99 C -10.2 -6.79 -3 -6.25 2.5 -4.08 C 7.5 -2.17 10.2 1.63 9.2 4.22 C 8.2 6.53 4 7.39 0.2 8.25"/></g>
<path transform="translate(605.6 1732.47)" fill="#231815" d="M -11.6 -1.41 C -8.5 -5.86 -5 -8.75 -2 -8.43 C 2.5 -7.81 9 0.39 11.6 6.25 C 12 8.59 10.5 9.22 9.2 8.2 Z"/>
<rect x="447.6" y="1748.2" width="213.9" height="22.6" fill="#9f9da0" stroke="#231815" stroke-width="2.1"/>
<line x1="479" y1="1748.2" x2="479" y2="1770.8" stroke="#231815" stroke-width="1.8" stroke-linecap="butt"/>
<line x1="576.1" y1="1748.2" x2="576.1" y2="1770.8" stroke="#231815" stroke-width="1.8" stroke-linecap="butt"/>
<path d="M 516.4 1758.1 l 4.6 3.9 M 519.7 1758.28 l 4.6 3.9 M 523 1758.46 l 4.6 3.9 M 526.3 1758.64 l 4.6 3.9 M 529.6 1758.82 l 4.6 3.9 M 532.9 1759 l 4.6 3.9 M 536.2 1759.18 l 4.6 3.9" stroke="#231815" stroke-width="2.7" fill="none" stroke-linecap="butt"/>
<path d="M 513.6 1757.3 L 517.9 1760" stroke="#231815" stroke-width="1.2" fill="none"/>
<path d="M 537.9 1761.5 L 541.4 1763.6" stroke="#231815" stroke-width="1.2" fill="none"/>
<path d="M 607.9 1758.1 l 4.6 3.9 M 611.2 1758.28 l 4.6 3.9 M 614.5 1758.46 l 4.6 3.9 M 617.8 1758.64 l 4.6 3.9 M 621.1 1758.82 l 4.6 3.9 M 624.4 1759 l 4.6 3.9 M 627.7 1759.18 l 4.6 3.9" stroke="#231815" stroke-width="2.7" fill="none" stroke-linecap="butt"/>
<path d="M 605.1 1757.3 L 609.4 1760" stroke="#231815" stroke-width="1.2" fill="none"/>
<path d="M 629.4 1761.5 L 632.9 1763.6" stroke="#231815" stroke-width="1.2" fill="none"/>
<rect x="447.6" y="1791.3" width="213.9" height="24.5" fill="#9f9da0" stroke="#231815" stroke-width="2.1"/>
<line x1="479" y1="1791.3" x2="479" y2="1815.8" stroke="#231815" stroke-width="1.8" stroke-linecap="butt"/>
<line x1="576.1" y1="1791.3" x2="576.1" y2="1815.8" stroke="#231815" stroke-width="1.8" stroke-linecap="butt"/>
<path d="M 516.4 1802.15 l 4.6 3.9 M 519.7 1802.33 l 4.6 3.9 M 523 1802.51 l 4.6 3.9 M 526.3 1802.69 l 4.6 3.9 M 529.6 1802.87 l 4.6 3.9 M 532.9 1803.05 l 4.6 3.9 M 536.2 1803.23 l 4.6 3.9" stroke="#231815" stroke-width="2.7" fill="none" stroke-linecap="butt"/>
<path d="M 513.6 1801.35 L 517.9 1804.05" stroke="#231815" stroke-width="1.2" fill="none"/>
<path d="M 537.9 1805.55 L 541.4 1807.65" stroke="#231815" stroke-width="1.2" fill="none"/>
<path d="M 607.9 1802.15 l 4.6 3.9 M 611.2 1802.33 l 4.6 3.9 M 614.5 1802.51 l 4.6 3.9 M 617.8 1802.69 l 4.6 3.9 M 621.1 1802.87 l 4.6 3.9 M 624.4 1803.05 l 4.6 3.9 M 627.7 1803.23 l 4.6 3.9" stroke="#231815" stroke-width="2.7" fill="none" stroke-linecap="butt"/>
<path d="M 605.1 1801.35 L 609.4 1804.05" stroke="#231815" stroke-width="1.2" fill="none"/>
<path d="M 629.4 1805.55 L 632.9 1807.65" stroke="#231815" stroke-width="1.2" fill="none"/>
<rect x="447.6" y="1815.8" width="213.9" height="24.9" fill="#9f9da0" stroke="#231815" stroke-width="2.1"/>
<line x1="479" y1="1815.8" x2="479" y2="1840.7" stroke="#231815" stroke-width="1.8" stroke-linecap="butt"/>
<line x1="576.1" y1="1815.8" x2="576.1" y2="1840.7" stroke="#231815" stroke-width="1.8" stroke-linecap="butt"/>
<path d="M 516.4 1826.85 l 4.6 3.9 M 519.7 1827.03 l 4.6 3.9 M 523 1827.21 l 4.6 3.9 M 526.3 1827.39 l 4.6 3.9 M 529.6 1827.57 l 4.6 3.9 M 532.9 1827.75 l 4.6 3.9 M 536.2 1827.93 l 4.6 3.9" stroke="#231815" stroke-width="2.7" fill="none" stroke-linecap="butt"/>
<path d="M 513.6 1826.05 L 517.9 1828.75" stroke="#231815" stroke-width="1.2" fill="none"/>
<path d="M 537.9 1830.25 L 541.4 1832.35" stroke="#231815" stroke-width="1.2" fill="none"/>
<path d="M 607.9 1826.85 l 4.6 3.9 M 611.2 1827.03 l 4.6 3.9 M 614.5 1827.21 l 4.6 3.9 M 617.8 1827.39 l 4.6 3.9 M 621.1 1827.57 l 4.6 3.9 M 624.4 1827.75 l 4.6 3.9 M 627.7 1827.93 l 4.6 3.9" stroke="#231815" stroke-width="2.7" fill="none" stroke-linecap="butt"/>
<path d="M 605.1 1826.05 L 609.4 1828.75" stroke="#231815" stroke-width="1.2" fill="none"/>
<path d="M 629.4 1830.25 L 632.9 1832.35" stroke="#231815" stroke-width="1.2" fill="none"/>
<rect x="447.6" y="1840.7" width="213.9" height="25.2" fill="#9f9da0" stroke="#231815" stroke-width="2.1"/>
<line x1="479" y1="1840.7" x2="479" y2="1865.9" stroke="#231815" stroke-width="1.8" stroke-linecap="butt"/>
<line x1="576.1" y1="1840.7" x2="576.1" y2="1865.9" stroke="#231815" stroke-width="1.8" stroke-linecap="butt"/>
<path d="M 516.4 1851.9 l 4.6 3.9 M 519.7 1852.08 l 4.6 3.9 M 523 1852.26 l 4.6 3.9 M 526.3 1852.44 l 4.6 3.9 M 529.6 1852.62 l 4.6 3.9 M 532.9 1852.8 l 4.6 3.9 M 536.2 1852.98 l 4.6 3.9" stroke="#231815" stroke-width="2.7" fill="none" stroke-linecap="butt"/>
<path d="M 513.6 1851.1 L 517.9 1853.8" stroke="#231815" stroke-width="1.2" fill="none"/>
<path d="M 537.9 1855.3 L 541.4 1857.4" stroke="#231815" stroke-width="1.2" fill="none"/>
<path d="M 607.9 1851.9 l 4.6 3.9 M 611.2 1852.08 l 4.6 3.9 M 614.5 1852.26 l 4.6 3.9 M 617.8 1852.44 l 4.6 3.9 M 621.1 1852.62 l 4.6 3.9 M 624.4 1852.8 l 4.6 3.9 M 627.7 1852.98 l 4.6 3.9" stroke="#231815" stroke-width="2.7" fill="none" stroke-linecap="butt"/>
<path d="M 605.1 1851.1 L 609.4 1853.8" stroke="#231815" stroke-width="1.2" fill="none"/>
<path d="M 629.4 1855.3 L 632.9 1857.4" stroke="#231815" stroke-width="1.2" fill="none"/>
<rect x="447.6" y="1865.9" width="213.9" height="24.9" fill="#9f9da0" stroke="#231815" stroke-width="2.1"/>
<line x1="479" y1="1865.9" x2="479" y2="1890.8" stroke="#231815" stroke-width="1.8" stroke-linecap="butt"/>
<line x1="576.1" y1="1865.9" x2="576.1" y2="1890.8" stroke="#231815" stroke-width="1.8" stroke-linecap="butt"/>
<path d="M 516.4 1876.95 l 4.6 3.9 M 519.7 1877.13 l 4.6 3.9 M 523 1877.31 l 4.6 3.9 M 526.3 1877.49 l 4.6 3.9 M 529.6 1877.67 l 4.6 3.9 M 532.9 1877.85 l 4.6 3.9 M 536.2 1878.03 l 4.6 3.9" stroke="#231815" stroke-width="2.7" fill="none" stroke-linecap="butt"/>
<path d="M 513.6 1876.15 L 517.9 1878.85" stroke="#231815" stroke-width="1.2" fill="none"/>
<path d="M 537.9 1880.35 L 541.4 1882.45" stroke="#231815" stroke-width="1.2" fill="none"/>
<path d="M 607.9 1876.95 l 4.6 3.9 M 611.2 1877.13 l 4.6 3.9 M 614.5 1877.31 l 4.6 3.9 M 617.8 1877.49 l 4.6 3.9 M 621.1 1877.67 l 4.6 3.9 M 624.4 1877.85 l 4.6 3.9 M 627.7 1878.03 l 4.6 3.9" stroke="#231815" stroke-width="2.7" fill="none" stroke-linecap="butt"/>
<path d="M 605.1 1876.15 L 609.4 1878.85" stroke="#231815" stroke-width="1.2" fill="none"/>
<path d="M 629.4 1880.35 L 632.9 1882.45" stroke="#231815" stroke-width="1.2" fill="none"/>
<rect x="447.6" y="1890.8" width="213.9" height="24.2" fill="#9f9da0" stroke="#231815" stroke-width="2.1"/>
<line x1="479" y1="1890.8" x2="479" y2="1915" stroke="#231815" stroke-width="1.8" stroke-linecap="butt"/>
<line x1="576.1" y1="1890.8" x2="576.1" y2="1915" stroke="#231815" stroke-width="1.8" stroke-linecap="butt"/>
<path d="M 516.4 1901.5 l 4.6 3.9 M 519.7 1901.68 l 4.6 3.9 M 523 1901.86 l 4.6 3.9 M 526.3 1902.04 l 4.6 3.9 M 529.6 1902.22 l 4.6 3.9 M 532.9 1902.4 l 4.6 3.9 M 536.2 1902.58 l 4.6 3.9" stroke="#231815" stroke-width="2.7" fill="none" stroke-linecap="butt"/>
<path d="M 513.6 1900.7 L 517.9 1903.4" stroke="#231815" stroke-width="1.2" fill="none"/>
<path d="M 537.9 1904.9 L 541.4 1907" stroke="#231815" stroke-width="1.2" fill="none"/>
<path d="M 607.9 1901.5 l 4.6 3.9 M 611.2 1901.68 l 4.6 3.9 M 614.5 1901.86 l 4.6 3.9 M 617.8 1902.04 l 4.6 3.9 M 621.1 1902.22 l 4.6 3.9 M 624.4 1902.4 l 4.6 3.9 M 627.7 1902.58 l 4.6 3.9" stroke="#231815" stroke-width="2.7" fill="none" stroke-linecap="butt"/>
<path d="M 605.1 1900.7 L 609.4 1903.4" stroke="#231815" stroke-width="1.2" fill="none"/>
<path d="M 629.4 1904.9 L 632.9 1907" stroke="#231815" stroke-width="1.2" fill="none"/>
<rect x="447.6" y="1915" width="213.9" height="25.2" fill="#9f9da0" stroke="#231815" stroke-width="2.1"/>
<line x1="479" y1="1915" x2="479" y2="1940.2" stroke="#231815" stroke-width="1.8" stroke-linecap="butt"/>
<line x1="576.1" y1="1915" x2="576.1" y2="1940.2" stroke="#231815" stroke-width="1.8" stroke-linecap="butt"/>
<path d="M 516.4 1926.2 l 4.6 3.9 M 519.7 1926.38 l 4.6 3.9 M 523 1926.56 l 4.6 3.9 M 526.3 1926.74 l 4.6 3.9 M 529.6 1926.92 l 4.6 3.9 M 532.9 1927.1 l 4.6 3.9 M 536.2 1927.28 l 4.6 3.9" stroke="#231815" stroke-width="2.7" fill="none" stroke-linecap="butt"/>
<path d="M 513.6 1925.4 L 517.9 1928.1" stroke="#231815" stroke-width="1.2" fill="none"/>
<path d="M 537.9 1929.6 L 541.4 1931.7" stroke="#231815" stroke-width="1.2" fill="none"/>
<path d="M 607.9 1926.2 l 4.6 3.9 M 611.2 1926.38 l 4.6 3.9 M 614.5 1926.56 l 4.6 3.9 M 617.8 1926.74 l 4.6 3.9 M 621.1 1926.92 l 4.6 3.9 M 624.4 1927.1 l 4.6 3.9 M 627.7 1927.28 l 4.6 3.9" stroke="#231815" stroke-width="2.7" fill="none" stroke-linecap="butt"/>
<path d="M 605.1 1925.4 L 609.4 1928.1" stroke="#231815" stroke-width="1.2" fill="none"/>
<path d="M 629.4 1929.6 L 632.9 1931.7" stroke="#231815" stroke-width="1.2" fill="none"/>
<rect x="447.6" y="1940.2" width="213.9" height="25.3" fill="#9f9da0" stroke="#231815" stroke-width="2.1"/>
<line x1="479" y1="1940.2" x2="479" y2="1965.5" stroke="#231815" stroke-width="1.8" stroke-linecap="butt"/>
<line x1="576.1" y1="1940.2" x2="576.1" y2="1965.5" stroke="#231815" stroke-width="1.8" stroke-linecap="butt"/>
<g transform="translate(524.5 1952.58)" fill="none" stroke="#231815" stroke-width="1.8" stroke-linecap="round" stroke-linejoin="round"><path d="M 4.5 0.4 C -1 3.57 -8.5 2.26 -9.6 -2.07 C -10.2 -4.7 -3 -4.33 2.5 -2.82 C 7.5 -1.5 10.2 1.13 9.2 3.26 C 8.2 5.15 4 5.86 0.2 6.57"/></g>
<path transform="translate(605.6 1954.15)" fill="#231815" d="M -11.6 -0.99 C -8.5 -4.12 -5 -6.15 -2 -5.93 C 2.5 -5.49 9 0.27 11.6 4.39 C 12 6.04 10.5 6.48 9.2 5.77 Z"/>
<rect x="447.6" y="1965.5" width="213.9" height="24.9" fill="#9f9da0" stroke="#231815" stroke-width="2.1"/>
<line x1="479" y1="1965.5" x2="479" y2="1990.4" stroke="#231815" stroke-width="1.8" stroke-linecap="butt"/>
<line x1="576.1" y1="1965.5" x2="576.1" y2="1990.4" stroke="#231815" stroke-width="1.8" stroke-linecap="butt"/>
<g transform="translate(524.5 1977.66)" fill="none" stroke="#231815" stroke-width="1.8" stroke-linecap="round" stroke-linejoin="round"><path d="M 4.5 0.4 C -1 3.51 -8.5 2.22 -9.6 -2.03 C -10.2 -4.62 -3 -4.25 2.5 -2.77 C 7.5 -1.48 10.2 1.11 9.2 3.22 C 8.2 5.1 4 5.8 0.2 6.5"/></g>
<path transform="translate(605.6 1979.22)" fill="#231815" d="M -11.6 -0.97 C -8.5 -4.05 -5 -6.05 -2 -5.83 C 2.5 -5.4 9 0.27 11.6 4.32 C 12 5.94 10.5 6.37 9.2 5.67 Z"/>
<rect x="447.6" y="1990.4" width="213.9" height="24.5" fill="#9f9da0" stroke="#231815" stroke-width="2.1"/>
<line x1="479" y1="1990.4" x2="479" y2="2014.9" stroke="#231815" stroke-width="1.8" stroke-linecap="butt"/>
<line x1="576.1" y1="1990.4" x2="576.1" y2="2014.9" stroke="#231815" stroke-width="1.8" stroke-linecap="butt"/>
<g transform="translate(524.5 2002.35)" fill="none" stroke="#231815" stroke-width="1.8" stroke-linecap="round" stroke-linejoin="round"><path d="M 4.5 0.4 C -1 3.45 -8.5 2.18 -9.6 -2 C -10.2 -4.54 -3 -4.18 2.5 -2.72 C 7.5 -1.45 10.2 1.09 9.2 3.18 C 8.2 5.04 4 5.74 0.2 6.44"/></g>
<path transform="translate(605.6 2003.89)" fill="#231815" d="M -11.6 -0.96 C -8.5 -3.98 -5 -5.95 -2 -5.74 C 2.5 -5.31 9 0.27 11.6 4.25 C 12 5.84 10.5 6.27 9.2 5.58 Z"/>
<rect x="447.6" y="2014.9" width="213.9" height="24.5" fill="#9f9da0" stroke="#231815" stroke-width="2.1"/>
<line x1="479" y1="2014.9" x2="479" y2="2039.4" stroke="#231815" stroke-width="1.8" stroke-linecap="butt"/>
<line x1="576.1" y1="2014.9" x2="576.1" y2="2039.4" stroke="#231815" stroke-width="1.8" stroke-linecap="butt"/>
<path d="M 516.4 2025.75 l 4.6 3.9 M 519.7 2025.93 l 4.6 3.9 M 523 2026.11 l 4.6 3.9 M 526.3 2026.29 l 4.6 3.9 M 529.6 2026.47 l 4.6 3.9 M 532.9 2026.65 l 4.6 3.9 M 536.2 2026.83 l 4.6 3.9" stroke="#231815" stroke-width="2.7" fill="none" stroke-linecap="butt"/>
<path d="M 513.6 2024.95 L 517.9 2027.65" stroke="#231815" stroke-width="1.2" fill="none"/>
<path d="M 537.9 2029.15 L 541.4 2031.25" stroke="#231815" stroke-width="1.2" fill="none"/>
<path d="M 607.9 2025.75 l 4.6 3.9 M 611.2 2025.93 l 4.6 3.9 M 614.5 2026.11 l 4.6 3.9 M 617.8 2026.29 l 4.6 3.9 M 621.1 2026.47 l 4.6 3.9 M 624.4 2026.65 l 4.6 3.9 M 627.7 2026.83 l 4.6 3.9" stroke="#231815" stroke-width="2.7" fill="none" stroke-linecap="butt"/>
<path d="M 605.1 2024.95 L 609.4 2027.65" stroke="#231815" stroke-width="1.2" fill="none"/>
<path d="M 629.4 2029.15 L 632.9 2031.25" stroke="#231815" stroke-width="1.2" fill="none"/>
<rect x="447.6" y="2039.4" width="213.9" height="24.6" fill="#9f9da0" stroke="#231815" stroke-width="2.1"/>
<line x1="479" y1="2039.4" x2="479" y2="2064" stroke="#231815" stroke-width="1.8" stroke-linecap="butt"/>
<line x1="576.1" y1="2039.4" x2="576.1" y2="2064" stroke="#231815" stroke-width="1.8" stroke-linecap="butt"/>
<path d="M 516.4 2050.3 l 4.6 3.9 M 519.7 2050.48 l 4.6 3.9 M 523 2050.66 l 4.6 3.9 M 526.3 2050.84 l 4.6 3.9 M 529.6 2051.02 l 4.6 3.9 M 532.9 2051.2 l 4.6 3.9 M 536.2 2051.38 l 4.6 3.9" stroke="#231815" stroke-width="2.7" fill="none" stroke-linecap="butt"/>
<path d="M 513.6 2049.5 L 517.9 2052.2" stroke="#231815" stroke-width="1.2" fill="none"/>
<path d="M 537.9 2053.7 L 541.4 2055.8" stroke="#231815" stroke-width="1.2" fill="none"/>
<path d="M 607.9 2050.3 l 4.6 3.9 M 611.2 2050.48 l 4.6 3.9 M 614.5 2050.66 l 4.6 3.9 M 617.8 2050.84 l 4.6 3.9 M 621.1 2051.02 l 4.6 3.9 M 624.4 2051.2 l 4.6 3.9 M 627.7 2051.38 l 4.6 3.9" stroke="#231815" stroke-width="2.7" fill="none" stroke-linecap="butt"/>
<path d="M 605.1 2049.5 L 609.4 2052.2" stroke="#231815" stroke-width="1.2" fill="none"/>
<path d="M 629.4 2053.7 L 632.9 2055.8" stroke="#231815" stroke-width="1.2" fill="none"/>
<rect x="447.6" y="2152.8" width="213.9" height="26.7" fill="#9f9da0" stroke="#231815" stroke-width="2.1"/>
<line x1="479" y1="2152.8" x2="479" y2="2179.5" stroke="#231815" stroke-width="1.8" stroke-linecap="butt"/>
<line x1="576.1" y1="2152.8" x2="576.1" y2="2179.5" stroke="#231815" stroke-width="1.8" stroke-linecap="butt"/>
<path d="M 516.4 2164.75 l 4.6 3.9 M 519.7 2164.93 l 4.6 3.9 M 523 2165.11 l 4.6 3.9 M 526.3 2165.29 l 4.6 3.9 M 529.6 2165.47 l 4.6 3.9 M 532.9 2165.65 l 4.6 3.9 M 536.2 2165.83 l 4.6 3.9" stroke="#231815" stroke-width="2.7" fill="none" stroke-linecap="butt"/>
<path d="M 513.6 2163.95 L 517.9 2166.65" stroke="#231815" stroke-width="1.2" fill="none"/>
<path d="M 537.9 2168.15 L 541.4 2170.25" stroke="#231815" stroke-width="1.2" fill="none"/>
<path d="M 607.9 2164.75 l 4.6 3.9 M 611.2 2164.93 l 4.6 3.9 M 614.5 2165.11 l 4.6 3.9 M 617.8 2165.29 l 4.6 3.9 M 621.1 2165.47 l 4.6 3.9 M 624.4 2165.65 l 4.6 3.9 M 627.7 2165.83 l 4.6 3.9" stroke="#231815" stroke-width="2.7" fill="none" stroke-linecap="butt"/>
<path d="M 605.1 2163.95 L 609.4 2166.65" stroke="#231815" stroke-width="1.2" fill="none"/>
<path d="M 629.4 2168.15 L 632.9 2170.25" stroke="#231815" stroke-width="1.2" fill="none"/>
<rect x="447.6" y="2208.9" width="183.8" height="15.5" fill="#9ab685" stroke="#231815" stroke-width="2.1"/>
<circle cx="482.8" cy="2216.65" r="2.7" fill="#231815"/>
<circle cx="539.9" cy="2216.65" r="2.7" fill="#231815"/>
<circle cx="601" cy="2216.65" r="2.7" fill="#231815"/>
<rect x="447.6" y="2224.4" width="183.8" height="15.6" fill="#9ab685" stroke="#231815" stroke-width="2.1"/>
<circle cx="482.8" cy="2232.2" r="2.7" fill="#231815"/>
<circle cx="539.9" cy="2232.2" r="2.7" fill="#231815"/>
<circle cx="601" cy="2232.2" r="2.7" fill="#231815"/>
<rect x="447.6" y="2240" width="183.8" height="14.9" fill="#9ab685" stroke="#231815" stroke-width="2.1"/>
<circle cx="482.8" cy="2247.45" r="2.7" fill="#231815"/>
<circle cx="539.9" cy="2247.45" r="2.7" fill="#231815"/>
<circle cx="601" cy="2247.45" r="2.7" fill="#231815"/>
<rect x="447.6" y="2254.9" width="213.9" height="24.8" fill="#9f9da0" stroke="#231815" stroke-width="2.1"/>
<line x1="479" y1="2254.9" x2="479" y2="2279.7" stroke="#231815" stroke-width="1.8" stroke-linecap="butt"/>
<line x1="576.1" y1="2254.9" x2="576.1" y2="2279.7" stroke="#231815" stroke-width="1.8" stroke-linecap="butt"/>
<path d="M 516.4 2265.9 l 4.6 3.9 M 519.7 2266.08 l 4.6 3.9 M 523 2266.26 l 4.6 3.9 M 526.3 2266.44 l 4.6 3.9 M 529.6 2266.62 l 4.6 3.9 M 532.9 2266.8 l 4.6 3.9 M 536.2 2266.98 l 4.6 3.9" stroke="#231815" stroke-width="2.7" fill="none" stroke-linecap="butt"/>
<path d="M 513.6 2265.1 L 517.9 2267.8" stroke="#231815" stroke-width="1.2" fill="none"/>
<path d="M 537.9 2269.3 L 541.4 2271.4" stroke="#231815" stroke-width="1.2" fill="none"/>
<path d="M 607.9 2265.9 l 4.6 3.9 M 611.2 2266.08 l 4.6 3.9 M 614.5 2266.26 l 4.6 3.9 M 617.8 2266.44 l 4.6 3.9 M 621.1 2266.62 l 4.6 3.9 M 624.4 2266.8 l 4.6 3.9 M 627.7 2266.98 l 4.6 3.9" stroke="#231815" stroke-width="2.7" fill="none" stroke-linecap="butt"/>
<path d="M 605.1 2265.1 L 609.4 2267.8" stroke="#231815" stroke-width="1.2" fill="none"/>
<path d="M 629.4 2269.3 L 632.9 2271.4" stroke="#231815" stroke-width="1.2" fill="none"/>
<rect x="447.6" y="2309.1" width="183.8" height="16.3" fill="#9f9da0" stroke="#231815" stroke-width="2.1"/>
<circle cx="482.8" cy="2317.25" r="2.7" fill="#231815"/>
<circle cx="539.9" cy="2317.25" r="2.7" fill="#231815"/>
<circle cx="601" cy="2317.25" r="2.7" fill="#231815"/>
<rect x="447.6" y="2354.8" width="213.9" height="25.2" fill="#9f9da0" stroke="#231815" stroke-width="2.1"/>
<line x1="479" y1="2354.8" x2="479" y2="2380" stroke="#231815" stroke-width="1.8" stroke-linecap="butt"/>
<line x1="576.1" y1="2354.8" x2="576.1" y2="2380" stroke="#231815" stroke-width="1.8" stroke-linecap="butt"/>
<path d="M 516.4 2366 l 4.6 3.9 M 519.7 2366.18 l 4.6 3.9 M 523 2366.36 l 4.6 3.9 M 526.3 2366.54 l 4.6 3.9 M 529.6 2366.72 l 4.6 3.9 M 532.9 2366.9 l 4.6 3.9 M 536.2 2367.08 l 4.6 3.9" stroke="#231815" stroke-width="2.7" fill="none" stroke-linecap="butt"/>
<path d="M 513.6 2365.2 L 517.9 2367.9" stroke="#231815" stroke-width="1.2" fill="none"/>
<path d="M 537.9 2369.4 L 541.4 2371.5" stroke="#231815" stroke-width="1.2" fill="none"/>
<path d="M 607.9 2366 l 4.6 3.9 M 611.2 2366.18 l 4.6 3.9 M 614.5 2366.36 l 4.6 3.9 M 617.8 2366.54 l 4.6 3.9 M 621.1 2366.72 l 4.6 3.9 M 624.4 2366.9 l 4.6 3.9 M 627.7 2367.08 l 4.6 3.9" stroke="#231815" stroke-width="2.7" fill="none" stroke-linecap="butt"/>
<path d="M 605.1 2365.2 L 609.4 2367.9" stroke="#231815" stroke-width="1.2" fill="none"/>
<path d="M 629.4 2369.4 L 632.9 2371.5" stroke="#231815" stroke-width="1.2" fill="none"/>
<rect x="447.6" y="2380" width="213.9" height="24.9" fill="#9f9da0" stroke="#231815" stroke-width="2.1"/>
<line x1="479" y1="2380" x2="479" y2="2404.9" stroke="#231815" stroke-width="1.8" stroke-linecap="butt"/>
<line x1="576.1" y1="2380" x2="576.1" y2="2404.9" stroke="#231815" stroke-width="1.8" stroke-linecap="butt"/>
<path d="M 516.4 2391.05 l 4.6 3.9 M 519.7 2391.23 l 4.6 3.9 M 523 2391.41 l 4.6 3.9 M 526.3 2391.59 l 4.6 3.9 M 529.6 2391.77 l 4.6 3.9 M 532.9 2391.95 l 4.6 3.9 M 536.2 2392.13 l 4.6 3.9" stroke="#231815" stroke-width="2.7" fill="none" stroke-linecap="butt"/>
<path d="M 513.6 2390.25 L 517.9 2392.95" stroke="#231815" stroke-width="1.2" fill="none"/>
<path d="M 537.9 2394.45 L 541.4 2396.55" stroke="#231815" stroke-width="1.2" fill="none"/>
<path d="M 607.9 2391.05 l 4.6 3.9 M 611.2 2391.23 l 4.6 3.9 M 614.5 2391.41 l 4.6 3.9 M 617.8 2391.59 l 4.6 3.9 M 621.1 2391.77 l 4.6 3.9 M 624.4 2391.95 l 4.6 3.9 M 627.7 2392.13 l 4.6 3.9" stroke="#231815" stroke-width="2.7" fill="none" stroke-linecap="butt"/>
<path d="M 605.1 2390.25 L 609.4 2392.95" stroke="#231815" stroke-width="1.2" fill="none"/>
<path d="M 629.4 2394.45 L 632.9 2396.55" stroke="#231815" stroke-width="1.2" fill="none"/>
<rect x="447.6" y="2404.9" width="213.9" height="25.2" fill="#9f9da0" stroke="#231815" stroke-width="2.1"/>
<line x1="479" y1="2404.9" x2="479" y2="2430.1" stroke="#231815" stroke-width="1.8" stroke-linecap="butt"/>
<line x1="576.1" y1="2404.9" x2="576.1" y2="2430.1" stroke="#231815" stroke-width="1.8" stroke-linecap="butt"/>
<path d="M 516.4 2416.1 l 4.6 3.9 M 519.7 2416.28 l 4.6 3.9 M 523 2416.46 l 4.6 3.9 M 526.3 2416.64 l 4.6 3.9 M 529.6 2416.82 l 4.6 3.9 M 532.9 2417 l 4.6 3.9 M 536.2 2417.18 l 4.6 3.9" stroke="#231815" stroke-width="2.7" fill="none" stroke-linecap="butt"/>
<path d="M 513.6 2415.3 L 517.9 2418" stroke="#231815" stroke-width="1.2" fill="none"/>
<path d="M 537.9 2419.5 L 541.4 2421.6" stroke="#231815" stroke-width="1.2" fill="none"/>
<path d="M 607.9 2416.1 l 4.6 3.9 M 611.2 2416.28 l 4.6 3.9 M 614.5 2416.46 l 4.6 3.9 M 617.8 2416.64 l 4.6 3.9 M 621.1 2416.82 l 4.6 3.9 M 624.4 2417 l 4.6 3.9 M 627.7 2417.18 l 4.6 3.9" stroke="#231815" stroke-width="2.7" fill="none" stroke-linecap="butt"/>
<path d="M 605.1 2415.3 L 609.4 2418" stroke="#231815" stroke-width="1.2" fill="none"/>
<path d="M 629.4 2419.5 L 632.9 2421.6" stroke="#231815" stroke-width="1.2" fill="none"/>
<rect x="447.6" y="2430.1" width="213.9" height="24.9" fill="#9f9da0" stroke="#231815" stroke-width="2.1"/>
<line x1="479" y1="2430.1" x2="479" y2="2455" stroke="#231815" stroke-width="1.8" stroke-linecap="butt"/>
<line x1="576.1" y1="2430.1" x2="576.1" y2="2455" stroke="#231815" stroke-width="1.8" stroke-linecap="butt"/>
<path d="M 516.4 2441.15 l 4.6 3.9 M 519.7 2441.33 l 4.6 3.9 M 523 2441.51 l 4.6 3.9 M 526.3 2441.69 l 4.6 3.9 M 529.6 2441.87 l 4.6 3.9 M 532.9 2442.05 l 4.6 3.9 M 536.2 2442.23 l 4.6 3.9" stroke="#231815" stroke-width="2.7" fill="none" stroke-linecap="butt"/>
<path d="M 513.6 2440.35 L 517.9 2443.05" stroke="#231815" stroke-width="1.2" fill="none"/>
<path d="M 537.9 2444.55 L 541.4 2446.65" stroke="#231815" stroke-width="1.2" fill="none"/>
<path d="M 607.9 2441.15 l 4.6 3.9 M 611.2 2441.33 l 4.6 3.9 M 614.5 2441.51 l 4.6 3.9 M 617.8 2441.69 l 4.6 3.9 M 621.1 2441.87 l 4.6 3.9 M 624.4 2442.05 l 4.6 3.9 M 627.7 2442.23 l 4.6 3.9" stroke="#231815" stroke-width="2.7" fill="none" stroke-linecap="butt"/>
<path d="M 605.1 2440.35 L 609.4 2443.05" stroke="#231815" stroke-width="1.2" fill="none"/>
<path d="M 629.4 2444.55 L 632.9 2446.65" stroke="#231815" stroke-width="1.2" fill="none"/>
<rect x="447.6" y="2455" width="213.9" height="24.5" fill="#9f9da0" stroke="#231815" stroke-width="2.1"/>
<line x1="479" y1="2455" x2="479" y2="2479.5" stroke="#231815" stroke-width="1.8" stroke-linecap="butt"/>
<line x1="576.1" y1="2455" x2="576.1" y2="2479.5" stroke="#231815" stroke-width="1.8" stroke-linecap="butt"/>
<path d="M 516.4 2465.85 l 4.6 3.9 M 519.7 2466.03 l 4.6 3.9 M 523 2466.21 l 4.6 3.9 M 526.3 2466.39 l 4.6 3.9 M 529.6 2466.57 l 4.6 3.9 M 532.9 2466.75 l 4.6 3.9 M 536.2 2466.93 l 4.6 3.9" stroke="#231815" stroke-width="2.7" fill="none" stroke-linecap="butt"/>
<path d="M 513.6 2465.05 L 517.9 2467.75" stroke="#231815" stroke-width="1.2" fill="none"/>
<path d="M 537.9 2469.25 L 541.4 2471.35" stroke="#231815" stroke-width="1.2" fill="none"/>
<path d="M 607.9 2465.85 l 4.6 3.9 M 611.2 2466.03 l 4.6 3.9 M 614.5 2466.21 l 4.6 3.9 M 617.8 2466.39 l 4.6 3.9 M 621.1 2466.57 l 4.6 3.9 M 624.4 2466.75 l 4.6 3.9 M 627.7 2466.93 l 4.6 3.9" stroke="#231815" stroke-width="2.7" fill="none" stroke-linecap="butt"/>
<path d="M 605.1 2465.05 L 609.4 2467.75" stroke="#231815" stroke-width="1.2" fill="none"/>
<path d="M 629.4 2469.25 L 632.9 2471.35" stroke="#231815" stroke-width="1.2" fill="none"/>
<rect x="447.6" y="2479.5" width="213.9" height="24.2" fill="#9f9da0" stroke="#231815" stroke-width="2.1"/>
<line x1="479" y1="2479.5" x2="479" y2="2503.7" stroke="#231815" stroke-width="1.8" stroke-linecap="butt"/>
<line x1="576.1" y1="2479.5" x2="576.1" y2="2503.7" stroke="#231815" stroke-width="1.8" stroke-linecap="butt"/>
<path d="M 516.4 2490.2 l 4.6 3.9 M 519.7 2490.38 l 4.6 3.9 M 523 2490.56 l 4.6 3.9 M 526.3 2490.74 l 4.6 3.9 M 529.6 2490.92 l 4.6 3.9 M 532.9 2491.1 l 4.6 3.9 M 536.2 2491.28 l 4.6 3.9" stroke="#231815" stroke-width="2.7" fill="none" stroke-linecap="butt"/>
<path d="M 513.6 2489.4 L 517.9 2492.1" stroke="#231815" stroke-width="1.2" fill="none"/>
<path d="M 537.9 2493.6 L 541.4 2495.7" stroke="#231815" stroke-width="1.2" fill="none"/>
<path d="M 607.9 2490.2 l 4.6 3.9 M 611.2 2490.38 l 4.6 3.9 M 614.5 2490.56 l 4.6 3.9 M 617.8 2490.74 l 4.6 3.9 M 621.1 2490.92 l 4.6 3.9 M 624.4 2491.1 l 4.6 3.9 M 627.7 2491.28 l 4.6 3.9" stroke="#231815" stroke-width="2.7" fill="none" stroke-linecap="butt"/>
<path d="M 605.1 2489.4 L 609.4 2492.1" stroke="#231815" stroke-width="1.2" fill="none"/>
<path d="M 629.4 2493.6 L 632.9 2495.7" stroke="#231815" stroke-width="1.2" fill="none"/>
<rect x="447.6" y="2503.7" width="213.9" height="27.9" fill="#9f9da0" stroke="#231815" stroke-width="2.1"/>
<line x1="479" y1="2503.7" x2="479" y2="2531.6" stroke="#231815" stroke-width="1.8" stroke-linecap="butt"/>
<line x1="576.1" y1="2503.7" x2="576.1" y2="2531.6" stroke="#231815" stroke-width="1.8" stroke-linecap="butt"/>
<path d="M 516.4 2516.25 l 4.6 3.9 M 519.7 2516.43 l 4.6 3.9 M 523 2516.61 l 4.6 3.9 M 526.3 2516.79 l 4.6 3.9 M 529.6 2516.97 l 4.6 3.9 M 532.9 2517.15 l 4.6 3.9 M 536.2 2517.33 l 4.6 3.9" stroke="#231815" stroke-width="2.7" fill="none" stroke-linecap="butt"/>
<path d="M 513.6 2515.45 L 517.9 2518.15" stroke="#231815" stroke-width="1.2" fill="none"/>
<path d="M 537.9 2519.65 L 541.4 2521.75" stroke="#231815" stroke-width="1.2" fill="none"/>
<path d="M 607.9 2516.25 l 4.6 3.9 M 611.2 2516.43 l 4.6 3.9 M 614.5 2516.61 l 4.6 3.9 M 617.8 2516.79 l 4.6 3.9 M 621.1 2516.97 l 4.6 3.9 M 624.4 2517.15 l 4.6 3.9 M 627.7 2517.33 l 4.6 3.9" stroke="#231815" stroke-width="2.7" fill="none" stroke-linecap="butt"/>
<path d="M 605.1 2515.45 L 609.4 2518.15" stroke="#231815" stroke-width="1.2" fill="none"/>
<path d="M 629.4 2519.65 L 632.9 2521.75" stroke="#231815" stroke-width="1.2" fill="none"/>
<path d="M 485.05 1266.45 L 485.05 1249.86 L 495.45 1249.86" fill="none" stroke="#231815" stroke-width="1.9"/>
<path d="M 543.81 1266.45 L 543.81 1249.86 L 554.21 1249.86" fill="none" stroke="#231815" stroke-width="1.9"/>
<path d="M 600.16 1266.45 L 600.16 1249.86 L 610.56 1249.86" fill="none" stroke="#231815" stroke-width="1.9"/>
<path d="M 504.75 1293.76 L 504.75 1276.47 L 515.15 1276.47" fill="none" stroke="#231815" stroke-width="1.9"/>
<path d="M 563.52 1293.76 L 563.52 1276.47 L 573.92 1276.47" fill="none" stroke="#231815" stroke-width="1.9"/>
<path d="M 620.55 1293.76 L 620.55 1276.47 L 630.95 1276.47" fill="none" stroke="#231815" stroke-width="1.9"/>
<path d="M 484.01 1318.99 L 484.01 1302.4 L 494.41 1302.4" fill="none" stroke="#231815" stroke-width="1.9"/>
<path d="M 542.78 1318.99 L 542.78 1302.4 L 553.18 1302.4" fill="none" stroke="#231815" stroke-width="1.9"/>
<path d="M 599.12 1318.99 L 599.12 1302.4 L 609.52 1302.4" fill="none" stroke="#231815" stroke-width="1.9"/>
<path d="M 504.75 1343.19 L 504.75 1325.9 L 515.15 1325.9" fill="none" stroke="#231815" stroke-width="1.9"/>
<path d="M 563.52 1343.19 L 563.52 1325.9 L 573.92 1325.9" fill="none" stroke="#231815" stroke-width="1.9"/>
<path d="M 620.55 1343.19 L 620.55 1325.9 L 630.95 1325.9" fill="none" stroke="#231815" stroke-width="1.9"/>
<path d="M 482.28 1369.8 L 482.28 1351.83 L 492.68 1351.83" fill="none" stroke="#231815" stroke-width="1.9"/>
<path d="M 541.39 1369.8 L 541.39 1351.83 L 551.79 1351.83" fill="none" stroke="#231815" stroke-width="1.9"/>
<path d="M 598.08 1369.8 L 598.08 1351.83 L 608.48 1351.83" fill="none" stroke="#231815" stroke-width="1.9"/>
<path d="M 483.1 1610.6 L 483.1 1605.6 L 493.6 1605.6" fill="none" stroke="#231815" stroke-width="1.9"/>
<path d="M 541.9 1610.6 L 541.9 1605.6 L 552.4 1605.6" fill="none" stroke="#231815" stroke-width="1.9"/>
<path d="M 598.7 1610.6 L 598.7 1605.6 L 609.2 1605.6" fill="none" stroke="#231815" stroke-width="1.9"/>
<path d="M 491.6 1707.2 L 491.6 1699.2 L 497 1699.2" fill="none" stroke="#231815" stroke-width="1.9"/>
<path d="M 545.6 1707.2 L 545.6 1699.2 L 551 1699.2" fill="none" stroke="#231815" stroke-width="1.9"/>
<path d="M 598.7 1707.2 L 598.7 1699.2 L 604.1 1699.2" fill="none" stroke="#231815" stroke-width="1.9"/>
</g>
<g id="depth">
<line x1="413.3" y1="222.12" x2="445.4" y2="222.12" stroke="#231815" stroke-width="1.6" stroke-linecap="butt"/>
<line x1="413.3" y1="246.66" x2="445.4" y2="246.66" stroke="#231815" stroke-width="1.6" stroke-linecap="butt"/>
<line x1="413.3" y1="268.44" x2="445.4" y2="268.44" stroke="#231815" stroke-width="1.6" stroke-linecap="butt"/>
<line x1="413.3" y1="292.29" x2="445.4" y2="292.29" stroke="#231815" stroke-width="1.6" stroke-linecap="butt"/>
<line x1="413.3" y1="317.18" x2="445.4" y2="317.18" stroke="#231815" stroke-width="1.6" stroke-linecap="butt"/>
<line x1="413.3" y1="338.26" x2="445.4" y2="338.26" stroke="#231815" stroke-width="1.6" stroke-linecap="butt"/>
<line x1="413.3" y1="362.81" x2="445.4" y2="362.81" stroke="#231815" stroke-width="1.6" stroke-linecap="butt"/>
<line x1="413.3" y1="386.66" x2="445.4" y2="386.66" stroke="#231815" stroke-width="1.6" stroke-linecap="butt"/>
<line x1="413.3" y1="411.2" x2="445.4" y2="411.2" stroke="#231815" stroke-width="1.6" stroke-linecap="butt"/>
<line x1="413.3" y1="435.05" x2="445.4" y2="435.05" stroke="#231815" stroke-width="1.6" stroke-linecap="butt"/>
<line x1="413.3" y1="459.25" x2="445.4" y2="459.25" stroke="#231815" stroke-width="1.6" stroke-linecap="butt"/>
<line x1="413.3" y1="480.68" x2="445.4" y2="480.68" stroke="#231815" stroke-width="1.6" stroke-linecap="butt"/>
<line x1="413.3" y1="503.15" x2="445.4" y2="503.15" stroke="#231815" stroke-width="1.6" stroke-linecap="butt"/>
<line x1="413.3" y1="529.42" x2="445.4" y2="529.42" stroke="#231815" stroke-width="1.6" stroke-linecap="butt"/>
<line x1="413.3" y1="550.5" x2="445.4" y2="550.5" stroke="#231815" stroke-width="1.6" stroke-linecap="butt"/>
<line x1="413.3" y1="576.43" x2="445.4" y2="576.43" stroke="#231815" stroke-width="1.6" stroke-linecap="butt"/>
<line x1="413.3" y1="598.89" x2="445.4" y2="598.89" stroke="#231815" stroke-width="1.6" stroke-linecap="butt"/>
<line x1="413.3" y1="622.74" x2="445.4" y2="622.74" stroke="#231815" stroke-width="1.6" stroke-linecap="butt"/>
<line x1="413.3" y1="646.25" x2="445.4" y2="646.25" stroke="#231815" stroke-width="1.6" stroke-linecap="butt"/>
<line x1="413.3" y1="669.75" x2="445.4" y2="669.75" stroke="#231815" stroke-width="1.6" stroke-linecap="butt"/>
<line x1="413.3" y1="693.61" x2="445.4" y2="693.61" stroke="#231815" stroke-width="1.6" stroke-linecap="butt"/>
<line x1="413.3" y1="717.11" x2="445.4" y2="717.11" stroke="#231815" stroke-width="1.6" stroke-linecap="butt"/>
<line x1="413.3" y1="740.62" x2="445.4" y2="740.62" stroke="#231815" stroke-width="1.6" stroke-linecap="butt"/>
<line x1="413.3" y1="763.43" x2="445.4" y2="763.43" stroke="#231815" stroke-width="1.6" stroke-linecap="butt"/>
<line x1="413.3" y1="787.63" x2="445.4" y2="787.63" stroke="#231815" stroke-width="1.6" stroke-linecap="butt"/>
<line x1="413.3" y1="810.44" x2="445.4" y2="810.44" stroke="#231815" stroke-width="1.6" stroke-linecap="butt"/>
<line x1="413.3" y1="834.98" x2="445.4" y2="834.98" stroke="#231815" stroke-width="1.6" stroke-linecap="butt"/>
<line x1="413.3" y1="858.83" x2="445.4" y2="858.83" stroke="#231815" stroke-width="1.6" stroke-linecap="butt"/>
<line x1="413.3" y1="882.34" x2="445.4" y2="882.34" stroke="#231815" stroke-width="1.6" stroke-linecap="butt"/>
<line x1="413.3" y1="905.92" x2="445.4" y2="905.92" stroke="#231815" stroke-width="1.6" stroke-linecap="butt"/>
<line x1="413.3" y1="930.81" x2="445.4" y2="930.81" stroke="#231815" stroke-width="1.6" stroke-linecap="butt"/>
<line x1="413.3" y1="953.28" x2="445.4" y2="953.28" stroke="#231815" stroke-width="1.6" stroke-linecap="butt"/>
<line x1="413.3" y1="975.4" x2="445.4" y2="975.4" stroke="#231815" stroke-width="1.6" stroke-linecap="butt"/>
<line x1="413.3" y1="999.25" x2="445.4" y2="999.25" stroke="#231815" stroke-width="1.6" stroke-linecap="butt"/>
<line x1="413.3" y1="1022.41" x2="445.4" y2="1022.41" stroke="#231815" stroke-width="1.6" stroke-linecap="butt"/>
<line x1="413.3" y1="1046.61" x2="445.4" y2="1046.61" stroke="#231815" stroke-width="1.6" stroke-linecap="butt"/>
<line x1="413.3" y1="1070.11" x2="445.4" y2="1070.11" stroke="#231815" stroke-width="1.6" stroke-linecap="butt"/>
<line x1="413.3" y1="1093.96" x2="445.4" y2="1093.96" stroke="#231815" stroke-width="1.6" stroke-linecap="butt"/>
<line x1="413.3" y1="1117.47" x2="445.4" y2="1117.47" stroke="#231815" stroke-width="1.6" stroke-linecap="butt"/>
<line x1="413.3" y1="1142.01" x2="445.4" y2="1142.01" stroke="#231815" stroke-width="1.6" stroke-linecap="butt"/>
<line x1="413.3" y1="1165.86" x2="445.4" y2="1165.86" stroke="#231815" stroke-width="1.6" stroke-linecap="butt"/>
<line x1="413.3" y1="1189.37" x2="445.4" y2="1189.37" stroke="#231815" stroke-width="1.6" stroke-linecap="butt"/>
<line x1="413.3" y1="1211.84" x2="445.4" y2="1211.84" stroke="#231815" stroke-width="1.6" stroke-linecap="butt"/>
<line x1="413.3" y1="1234.3" x2="445.4" y2="1234.3" stroke="#231815" stroke-width="1.6" stroke-linecap="butt"/>
<line x1="413.3" y1="1259.19" x2="445.4" y2="1259.19" stroke="#231815" stroke-width="1.6" stroke-linecap="butt"/>
<line x1="413.3" y1="1281.31" x2="445.4" y2="1281.31" stroke="#231815" stroke-width="1.6" stroke-linecap="butt"/>
<line x1="413.3" y1="1308.62" x2="445.4" y2="1308.62" stroke="#231815" stroke-width="1.6" stroke-linecap="butt"/>
<line x1="413.3" y1="1330.74" x2="445.4" y2="1330.74" stroke="#231815" stroke-width="1.6" stroke-linecap="butt"/>
<line x1="413.3" y1="1353.21" x2="445.4" y2="1353.21" stroke="#231815" stroke-width="1.6" stroke-linecap="butt"/>
<line x1="413.3" y1="1376.02" x2="445.4" y2="1376.02" stroke="#231815" stroke-width="1.6" stroke-linecap="butt"/>
<line x1="413.3" y1="1400.22" x2="445.4" y2="1400.22" stroke="#231815" stroke-width="1.6" stroke-linecap="butt"/>
<line x1="413.3" y1="1424.07" x2="445.4" y2="1424.07" stroke="#231815" stroke-width="1.6" stroke-linecap="butt"/>
<line x1="413.3" y1="1446.89" x2="445.4" y2="1446.89" stroke="#231815" stroke-width="1.6" stroke-linecap="butt"/>
<line x1="413.3" y1="1471.77" x2="445.4" y2="1471.77" stroke="#231815" stroke-width="1.6" stroke-linecap="butt"/>
<line x1="413.3" y1="1493.9" x2="445.4" y2="1493.9" stroke="#231815" stroke-width="1.6" stroke-linecap="butt"/>
<line x1="413.3" y1="1519.13" x2="445.4" y2="1519.13" stroke="#231815" stroke-width="1.6" stroke-linecap="butt"/>
<line x1="413.3" y1="1541.25" x2="445.4" y2="1541.25" stroke="#231815" stroke-width="1.6" stroke-linecap="butt"/>
<line x1="413.3" y1="1565.45" x2="445.4" y2="1565.45" stroke="#231815" stroke-width="1.6" stroke-linecap="butt"/>
<line x1="413.3" y1="1588.69" x2="445.4" y2="1588.69" stroke="#231815" stroke-width="1.6" stroke-linecap="butt"/>
<line x1="413.3" y1="1613.58" x2="445.4" y2="1613.58" stroke="#231815" stroke-width="1.6" stroke-linecap="butt"/>
<line x1="413.3" y1="1635.35" x2="445.4" y2="1635.35" stroke="#231815" stroke-width="1.6" stroke-linecap="butt"/>
<line x1="413.3" y1="1658.17" x2="445.4" y2="1658.17" stroke="#231815" stroke-width="1.6" stroke-linecap="butt"/>
<line x1="413.3" y1="1682.36" x2="445.4" y2="1682.36" stroke="#231815" stroke-width="1.6" stroke-linecap="butt"/>
<line x1="413.3" y1="1705.52" x2="445.4" y2="1705.52" stroke="#231815" stroke-width="1.6" stroke-linecap="butt"/>
<line x1="413.3" y1="1730.41" x2="445.4" y2="1730.41" stroke="#231815" stroke-width="1.6" stroke-linecap="butt"/>
<line x1="413.3" y1="1753.57" x2="445.4" y2="1753.57" stroke="#231815" stroke-width="1.6" stroke-linecap="butt"/>
<line x1="413.3" y1="1778.46" x2="445.4" y2="1778.46" stroke="#231815" stroke-width="1.6" stroke-linecap="butt"/>
<line x1="413.3" y1="1800.58" x2="445.4" y2="1800.58" stroke="#231815" stroke-width="1.6" stroke-linecap="butt"/>
<line x1="413.3" y1="1825.47" x2="445.4" y2="1825.47" stroke="#231815" stroke-width="1.6" stroke-linecap="butt"/>
<line x1="413.3" y1="1847.59" x2="445.4" y2="1847.59" stroke="#231815" stroke-width="1.6" stroke-linecap="butt"/>
<line x1="413.3" y1="1872.82" x2="445.4" y2="1872.82" stroke="#231815" stroke-width="1.6" stroke-linecap="butt"/>
<line x1="413.3" y1="1895.29" x2="445.4" y2="1895.29" stroke="#231815" stroke-width="1.6" stroke-linecap="butt"/>
<line x1="413.3" y1="1918.11" x2="445.4" y2="1918.11" stroke="#231815" stroke-width="1.6" stroke-linecap="butt"/>
<line x1="413.3" y1="1942.65" x2="445.4" y2="1942.65" stroke="#231815" stroke-width="1.6" stroke-linecap="butt"/>
<line x1="413.3" y1="1964.42" x2="445.4" y2="1964.42" stroke="#231815" stroke-width="1.6" stroke-linecap="butt"/>
<line x1="413.3" y1="1989.66" x2="445.4" y2="1989.66" stroke="#231815" stroke-width="1.6" stroke-linecap="butt"/>
<line x1="413.3" y1="2012.13" x2="445.4" y2="2012.13" stroke="#231815" stroke-width="1.6" stroke-linecap="butt"/>
<line x1="413.3" y1="2037.01" x2="445.4" y2="2037.01" stroke="#231815" stroke-width="1.6" stroke-linecap="butt"/>
<line x1="413.3" y1="2059.48" x2="445.4" y2="2059.48" stroke="#231815" stroke-width="1.6" stroke-linecap="butt"/>
<line x1="413.3" y1="2084.37" x2="445.4" y2="2084.37" stroke="#231815" stroke-width="1.6" stroke-linecap="butt"/>
<line x1="413.3" y1="2106.22" x2="445.4" y2="2106.22" stroke="#231815" stroke-width="1.6" stroke-linecap="butt"/>
<line x1="413.3" y1="2129.04" x2="445.4" y2="2129.04" stroke="#231815" stroke-width="1.6" stroke-linecap="butt"/>
<line x1="413.3" y1="2154.27" x2="445.4" y2="2154.27" stroke="#231815" stroke-width="1.6" stroke-linecap="butt"/>
<line x1="413.3" y1="2177.77" x2="445.4" y2="2177.77" stroke="#231815" stroke-width="1.6" stroke-linecap="butt"/>
<line x1="413.3" y1="2202.32" x2="445.4" y2="2202.32" stroke="#231815" stroke-width="1.6" stroke-linecap="butt"/>
<line x1="413.3" y1="2224.44" x2="445.4" y2="2224.44" stroke="#231815" stroke-width="1.6" stroke-linecap="butt"/>
<line x1="413.3" y1="2249.67" x2="445.4" y2="2249.67" stroke="#231815" stroke-width="1.6" stroke-linecap="butt"/>
<line x1="413.3" y1="2271.79" x2="445.4" y2="2271.79" stroke="#231815" stroke-width="1.6" stroke-linecap="butt"/>
<line x1="413.3" y1="2295.64" x2="445.4" y2="2295.64" stroke="#231815" stroke-width="1.6" stroke-linecap="butt"/>
<line x1="413.3" y1="2319.15" x2="445.4" y2="2319.15" stroke="#231815" stroke-width="1.6" stroke-linecap="butt"/>
<line x1="413.3" y1="2341.96" x2="445.4" y2="2341.96" stroke="#231815" stroke-width="1.6" stroke-linecap="butt"/>
<line x1="413.3" y1="2366.51" x2="445.4" y2="2366.51" stroke="#231815" stroke-width="1.6" stroke-linecap="butt"/>
<line x1="413.3" y1="2390.36" x2="445.4" y2="2390.36" stroke="#231815" stroke-width="1.6" stroke-linecap="butt"/>
<line x1="413.3" y1="2412.48" x2="445.4" y2="2412.48" stroke="#231815" stroke-width="1.6" stroke-linecap="butt"/>
<line x1="413.3" y1="2437.02" x2="445.4" y2="2437.02" stroke="#231815" stroke-width="1.6" stroke-linecap="butt"/>
<line x1="413.3" y1="2460.87" x2="445.4" y2="2460.87" stroke="#231815" stroke-width="1.6" stroke-linecap="butt"/>
<line x1="413.3" y1="2483.34" x2="445.4" y2="2483.34" stroke="#231815" stroke-width="1.6" stroke-linecap="butt"/>
<line x1="413.3" y1="2508.57" x2="445.4" y2="2508.57" stroke="#231815" stroke-width="1.6" stroke-linecap="butt"/>
<text font-size="40.5" style="font-weight:400;stroke-width:0" textLength="67.2" lengthAdjust="spacing" x="335.6" y="281.44">500</text>
<text font-size="40.5" style="font-weight:400;stroke-width:0" textLength="67.2" lengthAdjust="spacing" x="335.6" y="516.15">600</text>
<text font-size="40.5" style="font-weight:400;stroke-width:0" textLength="67.2" lengthAdjust="spacing" x="335.6" y="753.62">700</text>
<text font-size="40.5" style="font-weight:400;stroke-width:0" textLength="67.2" lengthAdjust="spacing" x="335.6" y="988.4">800</text>
<text font-size="40.5" style="font-weight:400;stroke-width:0" textLength="67.2" lengthAdjust="spacing" x="335.6" y="1224.84">900</text>
<text font-size="40.5" style="font-weight:400;stroke-width:0" textLength="90.8" lengthAdjust="spacing" x="312.6" y="1459.89">1000</text>
<text font-size="40.5" style="font-weight:400;stroke-width:0" textLength="90.8" lengthAdjust="spacing" x="312.6" y="1695.36">1100</text>
<text font-size="40.5" style="font-weight:400;stroke-width:0" textLength="90.8" lengthAdjust="spacing" x="312.6" y="1931.11">1200</text>
<text font-size="40.5" style="font-weight:400;stroke-width:0" textLength="90.8" lengthAdjust="spacing" x="312.6" y="2167.27">1300</text>
<text font-size="40.5" style="font-weight:400;stroke-width:0" textLength="90.8" lengthAdjust="spacing" x="312.6" y="2403.36">1400</text>
</g>
<g id="bars">
<rect x="800.6" y="909.61" width="60.63" height="3.7" fill="#ff0f05"/>
<rect x="800.6" y="968.02" width="64.09" height="3.7" fill="#ff0f05"/>
<rect x="800.6" y="980.47" width="57.17" height="3.7" fill="#ff0f05"/>
<rect x="800.6" y="1004.32" width="65.82" height="3.7" fill="#ff0f05"/>
<rect x="800.6" y="1052.83" width="58.9" height="7.6" fill="#ff0f05"/>
<rect x="800.6" y="1056.86" width="74.8" height="3.7" fill="#ff0f05"/>
<rect x="800.6" y="1061.35" width="57.17" height="3.7" fill="#ff0f05"/>
<rect x="800.6" y="1071.38" width="87.59" height="3.7" fill="#ff0f05"/>
<rect x="800.6" y="1072.71" width="65.12" height="5.18" fill="#ff0f05"/>
<rect x="800.6" y="1091.42" width="55.79" height="3.7" fill="#ff0f05"/>
<rect x="800.6" y="1149.62" width="63.4" height="8.3" fill="#ff0f05"/>
<rect x="800.6" y="1156.41" width="107.29" height="3.7" fill="#ff0f05"/>
<rect x="800.6" y="1180.26" width="55.1" height="3.7" fill="#ff0f05"/>
<rect x="800.6" y="1221.05" width="56.48" height="3.7" fill="#ff0f05"/>
<rect x="800.6" y="1418.59" width="270.79" height="3.7" fill="#ff0f05"/>
<rect x="800.6" y="1420.32" width="255.24" height="3.7" fill="#ff0f05"/>
<rect x="800.6" y="1420.44" width="111.79" height="6.22" fill="#ff0f05"/>
<rect x="800.6" y="1432.76" width="60.98" height="3.7" fill="#ff0f05"/>
<rect x="800.6" y="1443.83" width="57.17" height="3.7" fill="#ff0f05"/>
<rect x="800.6" y="1532.66" width="56.83" height="3.7" fill="#ff0f05"/>
<rect x="800.6" y="1541.65" width="60.28" height="3.7" fill="#ff0f05"/>
<rect x="800.6" y="1547.18" width="73.42" height="3.7" fill="#ff0f05"/>
<rect x="800.6" y="1549.03" width="65.82" height="5.53" fill="#ff0f05"/>
<rect x="800.6" y="1551.45" width="56.14" height="4.84" fill="#ff0f05"/>
<rect x="800.6" y="1578.29" width="63.74" height="3.7" fill="#ff0f05"/>
<rect x="800.6" y="1586.36" width="68.58" height="5.53" fill="#ff0f05"/>
<rect x="800.6" y="1589" width="114.9" height="3.7" fill="#ff0f05"/>
<rect x="800.6" y="1597.08" width="69.27" height="5.53" fill="#ff0f05"/>
<rect x="800.6" y="1600.41" width="76.19" height="3.7" fill="#ff0f05"/>
<rect x="800.6" y="2066.49" width="115.25" height="3.7" fill="#ff0f05"/>
<rect x="800.6" y="2067.31" width="105.91" height="5.53" fill="#ff0f05"/>
<rect x="800.6" y="2081.7" width="147.39" height="3.7" fill="#ff0f05"/>
<rect x="800.6" y="2082.17" width="104.88" height="6.22" fill="#ff0f05"/>
<rect x="800.6" y="2123.18" width="131.15" height="3.7" fill="#ff0f05"/>
<rect x="800.6" y="2140.12" width="112.48" height="3.7" fill="#ff0f05"/>
<rect x="800.6" y="2214.44" width="67.89" height="3.7" fill="#ff0f05"/>
<rect x="800.6" y="2229.65" width="59.94" height="3.7" fill="#ff0f05"/>
<rect x="800.6" y="2271.82" width="108.33" height="3.7" fill="#ff0f05"/>
<rect x="800.6" y="2279.77" width="135.29" height="3.7" fill="#ff0f05"/>
<rect x="800.6" y="2339.22" width="81.02" height="3.7" fill="#ff0f05"/>
<rect x="800.6" y="2340.73" width="54.75" height="4.15" fill="#ff0f05"/>
<rect x="800.6" y="2344.41" width="99" height="3.7" fill="#ff0f05"/>
<rect x="800.6" y="2349.37" width="79.64" height="3.46" fill="#ff0f05"/>
<rect x="800.6" y="2352.01" width="183.34" height="3.7" fill="#ff0f05"/>
<rect x="800.6" y="2353.52" width="101.42" height="7.6" fill="#ff0f05"/>
<rect x="800.6" y="2360.31" width="126.65" height="3.7" fill="#ff0f05"/>
<rect x="1086.2" y="908.91" width="243.75" height="3.7" fill="#742c8f"/>
<rect x="1086.2" y="965.6" width="162.17" height="3.7" fill="#742c8f"/>
<rect x="1086.2" y="979.77" width="162.17" height="3.7" fill="#742c8f"/>
<rect x="1086.2" y="1004.66" width="213.68" height="3.7" fill="#742c8f"/>
<rect x="1086.2" y="1053.4" width="276.93" height="3.7" fill="#742c8f"/>
<rect x="1086.2" y="1054.56" width="185.33" height="5.53" fill="#742c8f"/>
<rect x="1086.2" y="1059.97" width="193.63" height="3.7" fill="#742c8f"/>
<rect x="1086.2" y="1069.3" width="195.01" height="3.7" fill="#742c8f"/>
<rect x="1086.2" y="1071.15" width="195.01" height="5.53" fill="#742c8f"/>
<rect x="1086.2" y="1074.49" width="270.36" height="3.7" fill="#742c8f"/>
<rect x="1086.2" y="1091.77" width="182.57" height="3.7" fill="#742c8f"/>
<rect x="1086.2" y="1150.19" width="249.62" height="3.7" fill="#742c8f"/>
<rect x="1086.2" y="1154.68" width="248.59" height="3.7" fill="#742c8f"/>
<rect x="1086.2" y="1180.95" width="171.85" height="3.7" fill="#742c8f"/>
<rect x="1086.2" y="1220.7" width="259.65" height="3.7" fill="#742c8f"/>
<rect x="1086.2" y="1416.86" width="260.34" height="3.7" fill="#742c8f"/>
<rect x="1086.2" y="1418.59" width="257.92" height="3.7" fill="#742c8f"/>
<rect x="1086.2" y="1424.12" width="251.35" height="3.7" fill="#742c8f"/>
<rect x="1086.2" y="1443.83" width="174.62" height="3.7" fill="#742c8f"/>
<rect x="1086.2" y="1531.97" width="123.46" height="3.7" fill="#742c8f"/>
<rect x="1086.2" y="1543.38" width="264.83" height="3.7" fill="#742c8f"/>
<rect x="1086.2" y="1544.54" width="248.59" height="4.84" fill="#742c8f"/>
<rect x="1086.2" y="1550.64" width="264.83" height="3.7" fill="#742c8f"/>
<rect x="1086.2" y="1551.45" width="187.41" height="6.22" fill="#742c8f"/>
<rect x="1086.2" y="1578.98" width="109.98" height="3.7" fill="#742c8f"/>
<rect x="1086.2" y="1586.71" width="119.66" height="4.84" fill="#742c8f"/>
<rect x="1086.2" y="1589.35" width="237.87" height="3.7" fill="#742c8f"/>
<rect x="1086.2" y="1596.61" width="182.91" height="3.7" fill="#742c8f"/>
<rect x="1086.2" y="1600.76" width="58.47" height="3.7" fill="#742c8f"/>
<rect x="1086.2" y="2064.07" width="133.83" height="3.7" fill="#742c8f"/>
<rect x="1086.2" y="2068.22" width="139.7" height="3.7" fill="#742c8f"/>
<rect x="1086.2" y="2065.58" width="133.83" height="4.84" fill="#742c8f"/>
<rect x="1086.2" y="2079.28" width="146.62" height="3.7" fill="#742c8f"/>
<rect x="1086.2" y="2084.81" width="118.62" height="3.7" fill="#742c8f"/>
<rect x="1086.2" y="2122.15" width="126.22" height="3.7" fill="#742c8f"/>
<rect x="1086.2" y="2140.81" width="127.61" height="3.7" fill="#742c8f"/>
<rect x="1086.2" y="2214.09" width="108.25" height="3.7" fill="#742c8f"/>
<rect x="1086.2" y="2228.96" width="66.42" height="3.7" fill="#742c8f"/>
<rect x="1086.2" y="2270.09" width="246.51" height="3.7" fill="#742c8f"/>
<rect x="1086.2" y="2277.69" width="165.28" height="3.7" fill="#742c8f"/>
<rect x="1086.2" y="2340.95" width="140.74" height="3.7" fill="#742c8f"/>
<rect x="1086.2" y="2342.11" width="75.76" height="6.91" fill="#742c8f"/>
<rect x="1086.2" y="2346.83" width="112.74" height="3.7" fill="#742c8f"/>
<rect x="1086.2" y="2351.67" width="76.45" height="3.7" fill="#742c8f"/>
<rect x="1086.2" y="2356.16" width="173.23" height="3.7" fill="#742c8f"/>
<rect x="1086.2" y="2361.34" width="80.25" height="3.7" fill="#742c8f"/>
<rect x="1369" y="909.95" width="88.85" height="3.7" fill="#06ac48"/>
<rect x="1369" y="965.26" width="63.61" height="3.7" fill="#06ac48"/>
<rect x="1369" y="980.81" width="79.51" height="3.7" fill="#06ac48"/>
<rect x="1369" y="1004.32" width="79.51" height="3.7" fill="#06ac48"/>
<rect x="1369" y="1053.05" width="62.92" height="3.7" fill="#06ac48"/>
<rect x="1369" y="1057.89" width="47.37" height="3.7" fill="#06ac48"/>
<rect x="1369" y="1062.39" width="55.66" height="3.7" fill="#06ac48"/>
<rect x="1369" y="1071.03" width="86.77" height="3.7" fill="#06ac48"/>
<rect x="1369" y="1072.53" width="61.54" height="6.22" fill="#06ac48"/>
<rect x="1369" y="1091.42" width="70.18" height="3.7" fill="#06ac48"/>
<rect x="1369" y="1149.79" width="61.19" height="5.88" fill="#06ac48"/>
<rect x="1369" y="1156.41" width="105.09" height="3.7" fill="#06ac48"/>
<rect x="1369" y="1180.26" width="50.82" height="3.7" fill="#06ac48"/>
<rect x="1369" y="1221.74" width="70.87" height="3.7" fill="#06ac48"/>
<rect x="1369" y="1417.56" width="280.34" height="3.7" fill="#06ac48"/>
<rect x="1369" y="1423.78" width="212.59" height="3.7" fill="#06ac48"/>
<rect x="1369" y="1434.15" width="53.93" height="3.7" fill="#06ac48"/>
<rect x="1369" y="1443.83" width="46.68" height="3.7" fill="#06ac48"/>
<rect x="1369" y="1532.66" width="84.7" height="3.7" fill="#06ac48"/>
<rect x="1369" y="1542.81" width="34.23" height="4.15" fill="#06ac48"/>
<rect x="1369" y="1546.14" width="112.01" height="3.7" fill="#06ac48"/>
<rect x="1369" y="1550.64" width="105.09" height="3.7" fill="#06ac48"/>
<rect x="1369" y="1554.78" width="84.01" height="3.7" fill="#06ac48"/>
<rect x="1369" y="1579.67" width="204.99" height="3.7" fill="#06ac48"/>
<rect x="1369" y="1586.58" width="210.87" height="3.7" fill="#06ac48"/>
<rect x="1369" y="1588.09" width="96.11" height="5.53" fill="#06ac48"/>
<rect x="1369" y="1595.57" width="145.54" height="3.7" fill="#06ac48"/>
<rect x="1369" y="1600.06" width="88.16" height="3.7" fill="#06ac48"/>
<rect x="1369" y="2065.11" width="144.5" height="3.7" fill="#06ac48"/>
<rect x="1369" y="2065.58" width="144.5" height="6.22" fill="#06ac48"/>
<rect x="1369" y="2068.57" width="161.44" height="3.7" fill="#06ac48"/>
<rect x="1369" y="2080.79" width="168.35" height="5.53" fill="#06ac48"/>
<rect x="1369" y="2083.78" width="198.42" height="3.7" fill="#06ac48"/>
<rect x="1369" y="2123.18" width="240.94" height="3.7" fill="#06ac48"/>
<rect x="1369" y="2140.81" width="85.04" height="3.7" fill="#06ac48"/>
<rect x="1369" y="2214.09" width="98.18" height="3.7" fill="#06ac48"/>
<rect x="1369" y="2229.65" width="112.35" height="3.7" fill="#06ac48"/>
<rect x="1369" y="2271.13" width="76.75" height="3.7" fill="#06ac48"/>
<rect x="1369" y="2279.08" width="89.19" height="3.7" fill="#06ac48"/>
<rect x="1369" y="2340.38" width="118.23" height="6.91" fill="#06ac48"/>
<rect x="1369" y="2347.17" width="162.47" height="3.7" fill="#06ac48"/>
<rect x="1369" y="2354.09" width="145.88" height="3.7" fill="#06ac48"/>
<rect x="1369" y="2354.21" width="77.79" height="9.68" fill="#06ac48"/>
<rect x="1369" y="2360.31" width="85.04" height="3.7" fill="#06ac48"/>
<rect x="1650.2" y="910.99" width="215.87" height="3.7" fill="#ffc008"/>
<rect x="1650.2" y="967.33" width="250.09" height="3.7" fill="#ffc008"/>
<rect x="1650.2" y="980.47" width="206.89" height="3.7" fill="#ffc008"/>
<rect x="1650.2" y="1006.39" width="152.62" height="3.7" fill="#ffc008"/>
<rect x="1650.2" y="1054.78" width="188.91" height="3.7" fill="#ffc008"/>
<rect x="1650.2" y="1059.97" width="215.87" height="3.7" fill="#ffc008"/>
<rect x="1650.2" y="1071.15" width="189.6" height="7.6" fill="#ffc008"/>
<rect x="1650.2" y="1092.46" width="227.63" height="3.7" fill="#ffc008"/>
<rect x="1650.2" y="1151.91" width="249.75" height="3.7" fill="#ffc008"/>
<rect x="1650.2" y="1156.75" width="227.63" height="3.7" fill="#ffc008"/>
<rect x="1650.2" y="1182.68" width="243.87" height="3.7" fill="#ffc008"/>
<rect x="1650.2" y="1220.36" width="229.7" height="3.7" fill="#ffc008"/>
<rect x="1650.2" y="1417.68" width="158.84" height="5.53" fill="#ffc008"/>
<rect x="1650.2" y="1423.78" width="171.28" height="3.7" fill="#ffc008"/>
<rect x="1650.2" y="1432.76" width="216.91" height="3.7" fill="#ffc008"/>
<rect x="1650.2" y="1443.13" width="243.87" height="3.7" fill="#ffc008"/>
<rect x="1650.2" y="1533.01" width="188.91" height="3.7" fill="#ffc008"/>
<rect x="1650.2" y="1541.99" width="227.63" height="3.7" fill="#ffc008"/>
<rect x="1650.2" y="1547.87" width="249.75" height="3.7" fill="#ffc008"/>
<rect x="1650.2" y="1553.75" width="187.87" height="3.7" fill="#ffc008"/>
<rect x="1650.2" y="1580.71" width="233.5" height="3.7" fill="#ffc008"/>
<rect x="1650.2" y="1587.28" width="216.91" height="3.7" fill="#ffc008"/>
<rect x="1650.2" y="1588.43" width="167.48" height="6.22" fill="#ffc008"/>
<rect x="1650.2" y="1597.08" width="216.91" height="6.91" fill="#ffc008"/>
<rect x="1650.2" y="2065.11" width="215.53" height="3.7" fill="#ffc008"/>
<rect x="1650.2" y="2069.95" width="219.68" height="3.7" fill="#ffc008"/>
<rect x="1650.2" y="2080.1" width="215.53" height="7.6" fill="#ffc008"/>
<rect x="1650.2" y="2084.47" width="285.35" height="3.7" fill="#ffc008"/>
<rect x="1650.2" y="2124.22" width="184.42" height="3.7" fill="#ffc008"/>
<rect x="1650.2" y="2142.54" width="285.35" height="3.7" fill="#ffc008"/>
<rect x="1650.2" y="2215.13" width="243.18" height="3.7" fill="#ffc008"/>
<rect x="1650.2" y="2229.65" width="250.79" height="3.7" fill="#ffc008"/>
<rect x="1650.2" y="2272.51" width="255.62" height="3.7" fill="#ffc008"/>
<rect x="1650.2" y="2279.77" width="259.77" height="3.7" fill="#ffc008"/>
<rect x="1650.2" y="2341.3" width="285.35" height="3.7" fill="#ffc008"/>
<rect x="1650.2" y="2346.13" width="233.5" height="3.7" fill="#ffc008"/>
<rect x="1650.2" y="2346.26" width="198.59" height="9.68" fill="#ffc008"/>
<rect x="1650.2" y="2353.39" width="243.53" height="3.7" fill="#ffc008"/>
<rect x="1650.2" y="2355.94" width="206.54" height="7.6" fill="#ffc008"/>
<rect x="1650.2" y="2361.69" width="239.38" height="3.7" fill="#ffc008"/>
</g>
<g id="samples" fill="#ff0f05" stroke="#231815" stroke-width="1.7">
<circle cx="730.9" cy="911.6" r="7.3"/>
<circle cx="730.9" cy="968.3" r="7.3"/>
<circle cx="730.9" cy="983.3" r="7.3"/>
<circle cx="730.9" cy="1006.8" r="7.3"/>
<circle cx="730.9" cy="1062.8" r="7.3"/>
<circle cx="730.9" cy="1056.8" r="7.3"/>
<circle cx="730.9" cy="1075.8" r="7.3"/>
<circle cx="730.9" cy="1074" r="7.3"/>
<circle cx="730.9" cy="1092.7" r="7.3"/>
<circle cx="730.9" cy="1150.9" r="7.3"/>
<circle cx="730.9" cy="1157.8" r="7.3"/>
<circle cx="730.9" cy="1182" r="7.3"/>
<circle cx="730.9" cy="1223.5" r="7.3"/>
<circle cx="730.9" cy="1445.8" r="7.3"/>
<circle cx="730.9" cy="1433.7" r="7.3"/>
<circle cx="730.9" cy="1425.1" r="7.3"/>
<circle cx="730.9" cy="1420.7" r="7.3"/>
<circle cx="730.9" cy="1543.4" r="7.3"/>
<circle cx="730.9" cy="1534.8" r="7.3"/>
<circle cx="730.9" cy="1555.5" r="7.3"/>
<circle cx="730.9" cy="1551.7" r="7.3"/>
<circle cx="730.9" cy="1579.7" r="7.3"/>
<circle cx="730.9" cy="1591" r="7.3"/>
<circle cx="730.9" cy="1588.4" r="7.3"/>
<circle cx="730.9" cy="1601.3" r="7.3"/>
<circle cx="730.9" cy="1599.6" r="7.3"/>
<circle cx="730.9" cy="2067.3" r="7.3"/>
<circle cx="730.9" cy="2070.7" r="7.3"/>
<circle cx="730.9" cy="2087.2" r="7.3"/>
<circle cx="730.9" cy="2084.2" r="7.3"/>
<circle cx="730.9" cy="2125.5" r="7.3"/>
<circle cx="730.9" cy="2143.3" r="7.3"/>
<circle cx="730.9" cy="2214.2" r="7.3"/>
<circle cx="730.9" cy="2230.9" r="7.3"/>
<circle cx="730.9" cy="2281.6" r="7.3"/>
<circle cx="730.9" cy="2273.4" r="7.3"/>
<circle cx="730.9" cy="2342" r="7.3"/>
<circle cx="730.9" cy="2348.1" r="7.3"/>
<circle cx="730.9" cy="2362.8" r="7.3"/>
<circle cx="730.9" cy="2355" r="7.3"/>
</g>
<g id="frame" stroke="#231815" stroke-width="4" fill="none">
<rect x="26" y="37.1" width="2196.1" height="2494.7"/>
<path d="M 26 208.9 H 2222.1"/>
<path d="M 114.7 208.9 V 2531.8"/>
<path d="M 203.1 208.9 V 2531.8"/>
<path d="M 290.4 37.1 V 2531.8"/>
<path d="M 447.6 37.1 V 2531.8"/>
<path d="M 661.5 37.1 V 2531.8"/>
<path d="M 800.6 37.1 V 2531.8"/>
<path d="M 1086.2 37.1 V 2531.8"/>
<path d="M 1369 37.1 V 2531.8"/>
<path d="M 1650.2 37.1 V 2531.8"/>
<path d="M 1936 37.1 V 2531.8"/>
<path d="M 2078.5 208.9 V 2531.8"/>
<path d="M 203.1 1240.8 H 290.4"/>
<path d="M 203.1 1612.2 H 290.4"/>
<path d="M 203.1 2063.4 H 290.4"/>
<path d="M 1936 1014 H 2078.5"/>
<path d="M 1936 1079.9 H 2078.5"/>
<path d="M 1936 1188.9 H 2078.5"/>
<path d="M 1936 1748.1 H 2078.5"/>
<path d="M 1936 1956.9 H 2078.5"/>
<path d="M 1936 1989.9 H 2078.5"/>
<path d="M 1936 1241.6 H 2222.1"/>
<path d="M 1936 1385.6 H 2222.1"/>
<path d="M 1936 1602.8 H 2222.1"/>
<path d="M 1936 2211.5 H 2222.1"/>
<path d="M 1936 2327.7 H 2222.1"/>
</g>
<line x1="802.5" y1="176.3" x2="1084.6" y2="176.3" stroke="#ff0f05" stroke-width="4" stroke-linecap="butt"/>
<line x1="1088.2" y1="176.6" x2="1367" y2="176.6" stroke="#742c8f" stroke-width="4" stroke-linecap="butt"/>
<line x1="1370.7" y1="176.6" x2="1648.6" y2="176.6" stroke="#06ac48" stroke-width="4" stroke-linecap="butt"/>
<line x1="1652.6" y1="176.9" x2="1933.6" y2="176.9" stroke="#ffc008" stroke-width="4" stroke-linecap="butt"/>
<g id="header">
<text font-size="45" textLength="162" lengthAdjust="spacing" class="k" x="84.7" y="137.7">Stratum</text>
<text font-size="41" textLength="117" lengthAdjust="spacing" x="310.5" y="122.8">Depth</text>
<text font-size="41" y="169.2"><tspan x="308.3" y="168.4" style="font-weight:400;stroke-width:0" font-size="38">（</tspan><tspan x="352.6" y="169.2">m</tspan><tspan x="390.2" y="168.4" style="font-weight:400;stroke-width:0" font-size="38">）</tspan></text>
<text font-size="43" textLength="189" lengthAdjust="spacing" class="k" x="463.7" y="134.9">Lithology</text>
<text font-size="30" textLength="130.5" lengthAdjust="spacing" class="k" x="667" y="122.8">Sampling</text>
<text font-size="30" textLength="72" lengthAdjust="spacing" class="k" x="674.3" y="154.3">point</text>
<text font-size="43" textLength="170" lengthAdjust="spacing" x="862.6" y="114.8">TOC(%)</text>
<text font-size="43" y="114.8"><tspan x="1139.2" textLength="125" lengthAdjust="spacing">Tmax(</tspan><tspan x="1263.2" font-size="45" dy="1.2">°</tspan><tspan x="1277.7" dy="-1.2">C</tspan><tspan x="1309">)</tspan></text>
<text font-size="43" x="1396.9" y="114.8" textLength="228" lengthAdjust="spacing">S<tspan font-size="21" dy="8">1</tspan><tspan dy="-8">+S</tspan><tspan font-size="21" dy="8">2</tspan><tspan dy="-8">(mg/g)</tspan></text>
<text font-size="43" textLength="180" lengthAdjust="spacing" x="1705.4" y="114.8">HI(mg/g)</text>
<text font-size="43.5" textLength="249" lengthAdjust="spacing" x="1955.4" y="115.4">Sedimentary</text>
<text font-size="43.5" textLength="110" lengthAdjust="spacing" x="1955.4" y="161.7">facies</text>
<text font-size="27" x="813.2" y="164">0</text>
<text font-size="27" x="1060.4" y="164">3</text>
<text font-size="27" textLength="46.5" lengthAdjust="spacing" x="1099.5" y="164">350</text>
<text font-size="27" textLength="46.5" lengthAdjust="spacing" x="1311.3" y="164">600</text>
<text font-size="27" x="1379.8" y="164">0</text>
<text font-size="27" x="1625.4" y="164">5</text>
<text font-size="27" x="1660.8" y="164">0</text>
<text font-size="27" textLength="46" lengthAdjust="spacing" x="1880.6" y="166">200</text>
</g>
<g id="strata">
<text font-size="45" textLength="313" lengthAdjust="spacing" transform="translate(81.9 1559.9) rotate(-90)">Permian System</text>
<text font-size="45" textLength="335" lengthAdjust="spacing" transform="translate(168.6 1566.1) rotate(-90)">Qipan Formation</text>
<text font-size="45" textLength="285.5" lengthAdjust="spacing" transform="translate(262.6 847) rotate(-90)">Forth Member</text>
<text font-size="45" textLength="288" lengthAdjust="spacing" transform="translate(261.2 1566.7) rotate(-90)">Third Member</text>
<text font-size="45" textLength="312.5" lengthAdjust="spacing" transform="translate(259.8 1992.8) rotate(-90)">Second Member</text>
<text font-size="45" textLength="271.5" lengthAdjust="spacing" transform="translate(259.2 2426.1) rotate(-90)">First Member</text>
</g>
<g id="facies">
<text font-size="41" textLength="102.5" lengthAdjust="spacing" x="1957.6" y="599.6">Delta</text>
<text font-size="41" textLength="98.5" lengthAdjust="spacing" x="1957.6" y="645.7">front</text>
<text font-size="49" textLength="122" lengthAdjust="spacing" transform="translate(2162.5 786.3) rotate(-90)">Delta</text>
<text font-size="33" textLength="133" lengthAdjust="spacing" x="1940.2" y="1057.5">Prodelta</text>
<text font-size="41" textLength="102" lengthAdjust="spacing" x="1955.3" y="1126.6">Delta</text>
<text font-size="41" textLength="98.5" lengthAdjust="spacing" x="1955.3" y="1172.8">front</text>
<text font-size="33" textLength="133" lengthAdjust="spacing" x="1940.2" y="1225.5">Prodelta</text>
<text font-size="39" textLength="133" lengthAdjust="spacing" x="1941.8" y="1323.3">Efusion</text>
<text font-size="33" textLength="133.5" lengthAdjust="spacing" x="2082.8" y="1323.3">Volcanic</text>
<text font-size="25" textLength="81.5" lengthAdjust="spacing" x="1968.2" y="1489">Clastic</text>
<text font-size="25" textLength="63" lengthAdjust="spacing" x="1968.2" y="1516.7">rocks</text>
<text font-size="27" textLength="139" lengthAdjust="spacing" x="2080.8" y="1488.7">Continental</text>
<text font-size="27" textLength="56.5" lengthAdjust="spacing" x="2080.8" y="1515.3">shelf</text>
<text font-size="32" textLength="91.5" lengthAdjust="spacing" x="1959.3" y="1664.8">Grain</text>
<text font-size="32" textLength="78.5" lengthAdjust="spacing" x="1959.3" y="1701.6">bank</text>
<text font-size="31" textLength="93" lengthAdjust="spacing" x="1947.1" y="1823.5">Beach</text>
<text font-size="31" textLength="123.5" lengthAdjust="spacing" x="1947.1" y="1860.4">interact</text>
<text font-size="31" textLength="47" lengthAdjust="spacing" x="1947.1" y="1897.3">sea</text>
<text font-size="25" textLength="133.5" lengthAdjust="spacing" x="1940.2" y="1981.7">Grain bank</text>
<text font-size="31" textLength="93" lengthAdjust="spacing" x="1947.1" y="2072.9">Beach</text>
<text font-size="31" textLength="123.5" lengthAdjust="spacing" x="1947.1" y="2110.1">interact</text>
<text font-size="31" textLength="47" lengthAdjust="spacing" x="1947.1" y="2147.3">sea</text>
<text font-size="50" textLength="340" lengthAdjust="spacing" transform="translate(2161.9 2080.5) rotate(-90)">Open platform</text>
<text font-size="33" textLength="133" lengthAdjust="spacing" x="1940.5" y="2283.6">Prodelta</text>
<text font-size="41" textLength="103" lengthAdjust="spacing" x="2097.1" y="2284.4">Delta</text>
<text font-size="33" textLength="95" lengthAdjust="spacing" transform="translate(1994.2 2525.4) rotate(-90)">Mixed</text>
<text font-size="33" textLength="190" lengthAdjust="spacing" transform="translate(2030.8 2525.4) rotate(-90)">sedimentary</text>
<text font-size="33" textLength="184.5" lengthAdjust="spacing" transform="translate(2139.6 2522.6) rotate(-90)">Continental</text>
<text font-size="33" textLength="75.5" lengthAdjust="spacing" transform="translate(2177.6 2522.6) rotate(-90)">shelf</text>
</g>
<g id="legend">
<rect x="106.6" y="2572" width="117.8" height="58.8" fill="none" stroke="#231815" stroke-width="2.3"/>
<line x1="133.1" y1="2600.8" x2="144.8" y2="2600.8" stroke="#231815" stroke-width="1.9" stroke-linecap="butt"/>
<line x1="159.9" y1="2600.8" x2="172" y2="2600.8" stroke="#231815" stroke-width="1.9" stroke-linecap="butt"/>
<line x1="185.8" y1="2600.8" x2="195.4" y2="2600.8" stroke="#231815" stroke-width="1.9" stroke-linecap="butt"/>
<text font-size="27.5" textLength="135" lengthAdjust="spacing" class="k" x="233.4" y="2629.9">Mudstone</text>
<rect x="106.4" y="2655" width="118.6" height="59.2" fill="none" stroke="#231815" stroke-width="2.3"/>
<path d="M 130.2 2682.8 l 4.6 3.9 M 133.5 2682.98 l 4.6 3.9 M 136.8 2683.16 l 4.6 3.9 M 140.1 2683.34 l 4.6 3.9 M 143.4 2683.52 l 4.6 3.9 M 146.7 2683.7 l 4.6 3.9 M 150 2683.88 l 4.6 3.9" stroke="#231815" stroke-width="2.7" fill="none" stroke-linecap="butt"/>
<path d="M 127.4 2682 L 131.7 2684.7" stroke="#231815" stroke-width="1.2" fill="none"/>
<path d="M 151.7 2686.2 L 155.2 2688.3" stroke="#231815" stroke-width="1.2" fill="none"/>
<path d="M 181.3 2680.8 l 4.6 3.9 M 184.6 2680.98 l 4.6 3.9 M 187.9 2681.16 l 4.6 3.9 M 191.2 2681.34 l 4.6 3.9 M 194.5 2681.52 l 4.6 3.9 M 197.8 2681.7 l 4.6 3.9 M 201.1 2681.88 l 4.6 3.9" stroke="#231815" stroke-width="2.7" fill="none" stroke-linecap="butt"/>
<path d="M 178.5 2680 L 182.8 2682.7" stroke="#231815" stroke-width="1.2" fill="none"/>
<path d="M 202.8 2684.2 L 206.3 2686.3" stroke="#231815" stroke-width="1.2" fill="none"/>
<text font-size="27.5" textLength="136" lengthAdjust="spacing" class="k" x="234.7" y="2680.5">Mudstone</text>
<text font-size="27.5" textLength="130.5" lengthAdjust="spacing" class="k" x="234.7" y="2712.9">limestone</text>
<rect x="438" y="2570.5" width="120.2" height="60.3" fill="none" stroke="#231815" stroke-width="2.3"/>
<line x1="460.2" y1="2570.5" x2="460.2" y2="2630.8" stroke="#231815" stroke-width="1.6" stroke-linecap="butt"/>
<line x1="488.3" y1="2600.6" x2="506.8" y2="2600.6" stroke="#231815" stroke-width="1.9" stroke-linecap="butt"/>
<line x1="523.7" y1="2600.6" x2="541.4" y2="2600.6" stroke="#231815" stroke-width="1.9" stroke-linecap="butt"/>
<text font-size="27.5" textLength="151.5" lengthAdjust="spacing" class="k" x="568.2" y="2596.2">Calcareous</text>
<text font-size="27.5" textLength="131.5" lengthAdjust="spacing" class="k" x="568.2" y="2629.9">mudstone</text>
<rect x="437.2" y="2654.8" width="121.4" height="59.8" fill="none" stroke="#231815" stroke-width="2.3"/>
<path d="M 461.5 2701.2 L 461.5 2667.5 L 479.5 2667.5" fill="none" stroke="#231815" stroke-width="1.6"/>
<path d="M 512.9 2701.2 L 512.9 2667.5 L 531.5 2667.5" fill="none" stroke="#231815" stroke-width="1.6"/>
<text font-size="27.5" textLength="84.5" lengthAdjust="spacing" class="k" x="566.9" y="2712">Basalt</text>
<rect x="800.5" y="2570.5" width="118.2" height="59.9" fill="none" stroke="#231815" stroke-width="2.3"/>
<circle cx="826.2" cy="2597.5" r="4.4" fill="#231815"/>
<circle cx="857.8" cy="2597.5" r="4.4" fill="#231815"/>
<circle cx="888.9" cy="2597.5" r="4.4" fill="#231815"/>
<text font-size="27.5" textLength="141.5" lengthAdjust="spacing" class="k" x="928.2" y="2629.9">Sandstone</text>
<rect x="1131" y="2570.2" width="119.9" height="60.2" fill="none" stroke="#231815" stroke-width="2.3"/>
<circle cx="1157.15" cy="2599.7" r="2.8" fill="#231815"/>
<circle cx="1166.66" cy="2599.7" r="2.8" fill="#231815"/>
<circle cx="1188.69" cy="2599.7" r="2.8" fill="#231815"/>
<circle cx="1198.2" cy="2599.7" r="2.8" fill="#231815"/>
<circle cx="1219.37" cy="2599.7" r="2.8" fill="#231815"/>
<circle cx="1229.73" cy="2599.7" r="2.8" fill="#231815"/>
<text font-size="27.5" textLength="120" lengthAdjust="spacing" class="k" x="1260.8" y="2629.9">Siltstone</text>
<rect x="1470.4" y="2571" width="119.9" height="60.2" fill="none" stroke="#231815" stroke-width="2.3"/>
<circle cx="1493.14" cy="2599.7" r="2.8" fill="#231815"/>
<circle cx="1504.8" cy="2599.7" r="2.8" fill="#231815"/>
<circle cx="1525.11" cy="2599.7" r="2.8" fill="#231815"/>
<circle cx="1536.34" cy="2599.7" r="2.8" fill="#231815"/>
<line x1="1556.65" y1="2599.9" x2="1575.65" y2="2599.9" stroke="#231815" stroke-width="1.9" stroke-linecap="butt"/>
<text font-size="27.5" textLength="173" lengthAdjust="spacing" class="k" x="1599.8" y="2596.7">Argillaceous</text>
<text font-size="27.5" textLength="114" lengthAdjust="spacing" class="k" x="1599.8" y="2630.4">siltstone</text>
<rect x="1851" y="2571" width="119.1" height="60.2" fill="none" stroke="#231815" stroke-width="2.3"/>
<g transform="translate(1881 2600.26)" fill="none" stroke="#231815" stroke-width="1.8" stroke-linecap="round" stroke-linejoin="round"><path d="M 4.5 0.4 C -1 3.68 -8.5 2.32 -9.6 -2.13 C -10.2 -4.84 -3 -4.46 2.5 -2.91 C 7.5 -1.55 10.2 1.16 9.2 3.32 C 8.2 5.24 4 5.96 0.2 6.68"/></g>
<path transform="translate(1930.5 2602.35)" fill="#231815" d="M -11.6 -1.02 C -8.5 -4.24 -5 -6.33 -2 -6.1 C 2.5 -5.65 9 0.28 11.6 4.52 C 12 6.22 10.5 6.67 9.2 5.93 Z"/>
<text font-size="27.5" textLength="133" lengthAdjust="spacing" class="k" x="1981.3" y="2597.5">Bioclastic</text>
<text font-size="27.5" textLength="130.5" lengthAdjust="spacing" class="k" x="1981.3" y="2631.2">limestone</text>
</g>
<rect x="1956" y="1856.5" width="10" height="5" fill="#ffc008"/>
</svg>
</body>
</html>
